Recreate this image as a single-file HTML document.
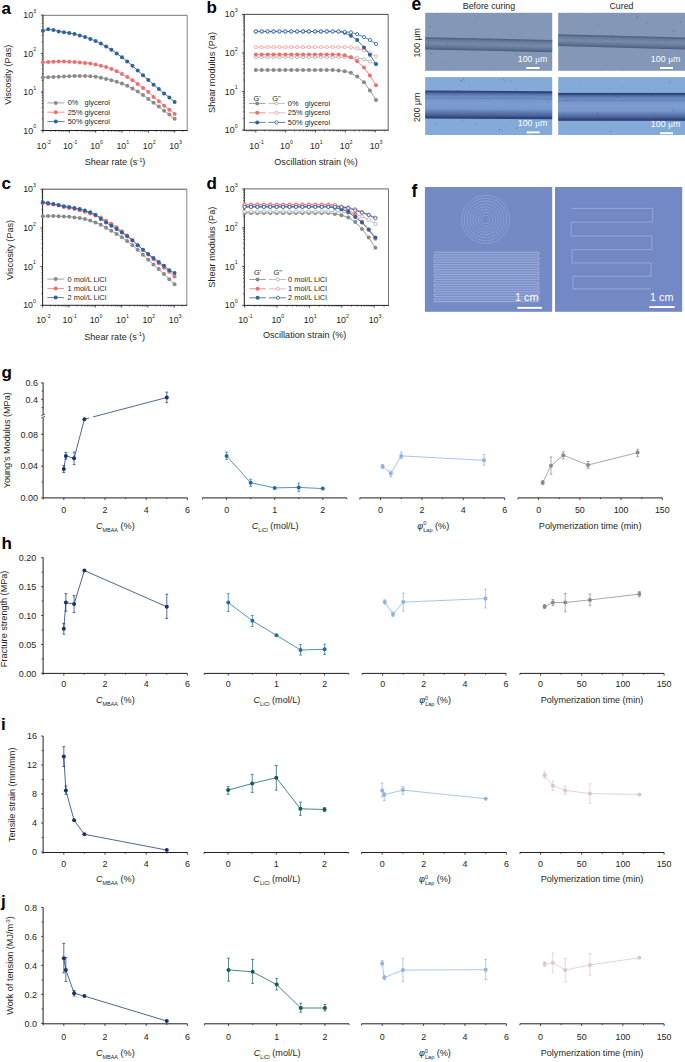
<!DOCTYPE html>
<html><head><meta charset="utf-8"><style>
html,body{margin:0;padding:0;background:#fff;}
body{width:685px;height:1062px;overflow:hidden;}
svg{display:block;font-family:"Liberation Sans", sans-serif;}
</style></head><body>
<svg width="685" height="1062" viewBox="0 0 685 1062">
<defs><linearGradient id="ch1" x1="0" y1="0" x2="0" y2="1"><stop offset="0" stop-color="#4f607e"/><stop offset="0.1" stop-color="#56688a"/><stop offset="0.18" stop-color="#65799a"/><stop offset="0.35" stop-color="#6f84a3"/><stop offset="0.5" stop-color="#7689a8"/><stop offset="0.62" stop-color="#6d81a0"/><stop offset="0.78" stop-color="#627594"/><stop offset="0.9" stop-color="#56678a"/><stop offset="1" stop-color="#4c5c7a"/></linearGradient><linearGradient id="ch2" x1="0" y1="0" x2="0" y2="1"><stop offset="0" stop-color="#2a3b72"/><stop offset="0.05" stop-color="#33477e"/><stop offset="0.1" stop-color="#4f6aa3"/><stop offset="0.16" stop-color="#627fb7"/><stop offset="0.22" stop-color="#6f8fc5"/><stop offset="0.27" stop-color="#6282bb"/><stop offset="0.31" stop-color="#7595ca"/><stop offset="0.45" stop-color="#7d9dd0"/><stop offset="0.64" stop-color="#7898cc"/><stop offset="0.71" stop-color="#6a87c0"/><stop offset="0.79" stop-color="#5a74ab"/><stop offset="0.87" stop-color="#4c629b"/><stop offset="0.94" stop-color="#34477f"/><stop offset="1" stop-color="#2a3b72"/></linearGradient></defs>
<rect width="685" height="1062" fill="#fff"/>
<line x1="43" y1="15.3" x2="187.2" y2="15.3" stroke="#666" stroke-width="0.9" />
<line x1="187.2" y1="15.3" x2="187.2" y2="130.5" stroke="#777" stroke-width="0.9" />
<line x1="43" y1="130.5" x2="43" y2="132.7" stroke="#231f20" stroke-width="0.8" />
<line x1="50.93" y1="130.5" x2="50.93" y2="131.8" stroke="#231f20" stroke-width="0.6" />
<line x1="55.57" y1="130.5" x2="55.57" y2="131.8" stroke="#231f20" stroke-width="0.6" />
<line x1="58.86" y1="130.5" x2="58.86" y2="131.8" stroke="#231f20" stroke-width="0.6" />
<line x1="61.42" y1="130.5" x2="61.42" y2="131.8" stroke="#231f20" stroke-width="0.6" />
<line x1="63.5" y1="130.5" x2="63.5" y2="131.8" stroke="#231f20" stroke-width="0.6" />
<line x1="65.27" y1="130.5" x2="65.27" y2="131.8" stroke="#231f20" stroke-width="0.6" />
<line x1="66.8" y1="130.5" x2="66.8" y2="131.8" stroke="#231f20" stroke-width="0.6" />
<line x1="68.14" y1="130.5" x2="68.14" y2="131.8" stroke="#231f20" stroke-width="0.6" />
<line x1="69.35" y1="130.5" x2="69.35" y2="132.7" stroke="#231f20" stroke-width="0.8" />
<line x1="77.28" y1="130.5" x2="77.28" y2="131.8" stroke="#231f20" stroke-width="0.6" />
<line x1="81.92" y1="130.5" x2="81.92" y2="131.8" stroke="#231f20" stroke-width="0.6" />
<line x1="85.21" y1="130.5" x2="85.21" y2="131.8" stroke="#231f20" stroke-width="0.6" />
<line x1="87.77" y1="130.5" x2="87.77" y2="131.8" stroke="#231f20" stroke-width="0.6" />
<line x1="89.85" y1="130.5" x2="89.85" y2="131.8" stroke="#231f20" stroke-width="0.6" />
<line x1="91.62" y1="130.5" x2="91.62" y2="131.8" stroke="#231f20" stroke-width="0.6" />
<line x1="93.15" y1="130.5" x2="93.15" y2="131.8" stroke="#231f20" stroke-width="0.6" />
<line x1="94.49" y1="130.5" x2="94.49" y2="131.8" stroke="#231f20" stroke-width="0.6" />
<line x1="95.7" y1="130.5" x2="95.7" y2="132.7" stroke="#231f20" stroke-width="0.8" />
<line x1="103.63" y1="130.5" x2="103.63" y2="131.8" stroke="#231f20" stroke-width="0.6" />
<line x1="108.27" y1="130.5" x2="108.27" y2="131.8" stroke="#231f20" stroke-width="0.6" />
<line x1="111.56" y1="130.5" x2="111.56" y2="131.8" stroke="#231f20" stroke-width="0.6" />
<line x1="114.12" y1="130.5" x2="114.12" y2="131.8" stroke="#231f20" stroke-width="0.6" />
<line x1="116.2" y1="130.5" x2="116.2" y2="131.8" stroke="#231f20" stroke-width="0.6" />
<line x1="117.97" y1="130.5" x2="117.97" y2="131.8" stroke="#231f20" stroke-width="0.6" />
<line x1="119.5" y1="130.5" x2="119.5" y2="131.8" stroke="#231f20" stroke-width="0.6" />
<line x1="120.84" y1="130.5" x2="120.84" y2="131.8" stroke="#231f20" stroke-width="0.6" />
<line x1="122.05" y1="130.5" x2="122.05" y2="132.7" stroke="#231f20" stroke-width="0.8" />
<line x1="129.98" y1="130.5" x2="129.98" y2="131.8" stroke="#231f20" stroke-width="0.6" />
<line x1="134.62" y1="130.5" x2="134.62" y2="131.8" stroke="#231f20" stroke-width="0.6" />
<line x1="137.91" y1="130.5" x2="137.91" y2="131.8" stroke="#231f20" stroke-width="0.6" />
<line x1="140.47" y1="130.5" x2="140.47" y2="131.8" stroke="#231f20" stroke-width="0.6" />
<line x1="142.55" y1="130.5" x2="142.55" y2="131.8" stroke="#231f20" stroke-width="0.6" />
<line x1="144.32" y1="130.5" x2="144.32" y2="131.8" stroke="#231f20" stroke-width="0.6" />
<line x1="145.85" y1="130.5" x2="145.85" y2="131.8" stroke="#231f20" stroke-width="0.6" />
<line x1="147.19" y1="130.5" x2="147.19" y2="131.8" stroke="#231f20" stroke-width="0.6" />
<line x1="148.4" y1="130.5" x2="148.4" y2="132.7" stroke="#231f20" stroke-width="0.8" />
<line x1="156.33" y1="130.5" x2="156.33" y2="131.8" stroke="#231f20" stroke-width="0.6" />
<line x1="160.97" y1="130.5" x2="160.97" y2="131.8" stroke="#231f20" stroke-width="0.6" />
<line x1="164.26" y1="130.5" x2="164.26" y2="131.8" stroke="#231f20" stroke-width="0.6" />
<line x1="166.82" y1="130.5" x2="166.82" y2="131.8" stroke="#231f20" stroke-width="0.6" />
<line x1="168.9" y1="130.5" x2="168.9" y2="131.8" stroke="#231f20" stroke-width="0.6" />
<line x1="170.67" y1="130.5" x2="170.67" y2="131.8" stroke="#231f20" stroke-width="0.6" />
<line x1="172.2" y1="130.5" x2="172.2" y2="131.8" stroke="#231f20" stroke-width="0.6" />
<line x1="173.54" y1="130.5" x2="173.54" y2="131.8" stroke="#231f20" stroke-width="0.6" />
<line x1="174.75" y1="130.5" x2="174.75" y2="132.7" stroke="#231f20" stroke-width="0.8" />
<line x1="182.68" y1="130.5" x2="182.68" y2="131.8" stroke="#231f20" stroke-width="0.6" />
<line x1="40.8" y1="130.5" x2="43" y2="130.5" stroke="#231f20" stroke-width="0.8" />
<line x1="41.7" y1="118.92" x2="43" y2="118.92" stroke="#231f20" stroke-width="0.6" />
<line x1="41.7" y1="112.15" x2="43" y2="112.15" stroke="#231f20" stroke-width="0.6" />
<line x1="41.7" y1="107.34" x2="43" y2="107.34" stroke="#231f20" stroke-width="0.6" />
<line x1="41.7" y1="103.61" x2="43" y2="103.61" stroke="#231f20" stroke-width="0.6" />
<line x1="41.7" y1="100.56" x2="43" y2="100.56" stroke="#231f20" stroke-width="0.6" />
<line x1="41.7" y1="97.99" x2="43" y2="97.99" stroke="#231f20" stroke-width="0.6" />
<line x1="41.7" y1="95.76" x2="43" y2="95.76" stroke="#231f20" stroke-width="0.6" />
<line x1="41.7" y1="93.79" x2="43" y2="93.79" stroke="#231f20" stroke-width="0.6" />
<line x1="40.8" y1="92.03" x2="43" y2="92.03" stroke="#231f20" stroke-width="0.8" />
<line x1="41.7" y1="80.45" x2="43" y2="80.45" stroke="#231f20" stroke-width="0.6" />
<line x1="41.7" y1="73.68" x2="43" y2="73.68" stroke="#231f20" stroke-width="0.6" />
<line x1="41.7" y1="68.87" x2="43" y2="68.87" stroke="#231f20" stroke-width="0.6" />
<line x1="41.7" y1="65.14" x2="43" y2="65.14" stroke="#231f20" stroke-width="0.6" />
<line x1="41.7" y1="62.09" x2="43" y2="62.09" stroke="#231f20" stroke-width="0.6" />
<line x1="41.7" y1="59.52" x2="43" y2="59.52" stroke="#231f20" stroke-width="0.6" />
<line x1="41.7" y1="57.29" x2="43" y2="57.29" stroke="#231f20" stroke-width="0.6" />
<line x1="41.7" y1="55.32" x2="43" y2="55.32" stroke="#231f20" stroke-width="0.6" />
<line x1="40.8" y1="53.56" x2="43" y2="53.56" stroke="#231f20" stroke-width="0.8" />
<line x1="41.7" y1="41.98" x2="43" y2="41.98" stroke="#231f20" stroke-width="0.6" />
<line x1="41.7" y1="35.21" x2="43" y2="35.21" stroke="#231f20" stroke-width="0.6" />
<line x1="41.7" y1="30.4" x2="43" y2="30.4" stroke="#231f20" stroke-width="0.6" />
<line x1="41.7" y1="26.67" x2="43" y2="26.67" stroke="#231f20" stroke-width="0.6" />
<line x1="41.7" y1="23.62" x2="43" y2="23.62" stroke="#231f20" stroke-width="0.6" />
<line x1="41.7" y1="21.05" x2="43" y2="21.05" stroke="#231f20" stroke-width="0.6" />
<line x1="41.7" y1="18.82" x2="43" y2="18.82" stroke="#231f20" stroke-width="0.6" />
<line x1="41.7" y1="16.85" x2="43" y2="16.85" stroke="#231f20" stroke-width="0.6" />
<line x1="40.8" y1="15.09" x2="43" y2="15.09" stroke="#231f20" stroke-width="0.8" />
<line x1="43" y1="14.9" x2="43" y2="130.95" stroke="#231f20" stroke-width="1.0" />
<line x1="42.55" y1="130.5" x2="187.6" y2="130.5" stroke="#231f20" stroke-width="1.0" />
<polyline points="42.9,77.5 48.17,77.3 53.44,76.9 58.71,76.7 63.98,76.6 69.25,76.3 74.52,76 79.79,76 85.06,76.1 90.33,76.3 95.6,76.7 100.87,77.7 106.14,78.9 111.41,80.2 116.68,81.8 121.95,83.6 127.22,85.8 132.49,88.5 137.76,91.6 143.03,95.1 148.3,99 153.57,102.7 158.84,106.6 164.11,110.7 169.38,114.5 174.65,118.8" fill="none" stroke="#8a8a8a" stroke-width="0.85"/>
<circle cx="42.9" cy="77.5" r="2.0" fill="#8a8a8a"/>
<circle cx="48.17" cy="77.3" r="2.0" fill="#8a8a8a"/>
<circle cx="53.44" cy="76.9" r="2.0" fill="#8a8a8a"/>
<circle cx="58.71" cy="76.7" r="2.0" fill="#8a8a8a"/>
<circle cx="63.98" cy="76.6" r="2.0" fill="#8a8a8a"/>
<circle cx="69.25" cy="76.3" r="2.0" fill="#8a8a8a"/>
<circle cx="74.52" cy="76" r="2.0" fill="#8a8a8a"/>
<circle cx="79.79" cy="76" r="2.0" fill="#8a8a8a"/>
<circle cx="85.06" cy="76.1" r="2.0" fill="#8a8a8a"/>
<circle cx="90.33" cy="76.3" r="2.0" fill="#8a8a8a"/>
<circle cx="95.6" cy="76.7" r="2.0" fill="#8a8a8a"/>
<circle cx="100.87" cy="77.7" r="2.0" fill="#8a8a8a"/>
<circle cx="106.14" cy="78.9" r="2.0" fill="#8a8a8a"/>
<circle cx="111.41" cy="80.2" r="2.0" fill="#8a8a8a"/>
<circle cx="116.68" cy="81.8" r="2.0" fill="#8a8a8a"/>
<circle cx="121.95" cy="83.6" r="2.0" fill="#8a8a8a"/>
<circle cx="127.22" cy="85.8" r="2.0" fill="#8a8a8a"/>
<circle cx="132.49" cy="88.5" r="2.0" fill="#8a8a8a"/>
<circle cx="137.76" cy="91.6" r="2.0" fill="#8a8a8a"/>
<circle cx="143.03" cy="95.1" r="2.0" fill="#8a8a8a"/>
<circle cx="148.3" cy="99" r="2.0" fill="#8a8a8a"/>
<circle cx="153.57" cy="102.7" r="2.0" fill="#8a8a8a"/>
<circle cx="158.84" cy="106.6" r="2.0" fill="#8a8a8a"/>
<circle cx="164.11" cy="110.7" r="2.0" fill="#8a8a8a"/>
<circle cx="169.38" cy="114.5" r="2.0" fill="#8a8a8a"/>
<circle cx="174.65" cy="118.8" r="2.0" fill="#8a8a8a"/>
<polyline points="42.9,62.3 48.17,62 53.44,61.7 58.71,61.5 63.98,61.5 69.25,61.7 74.52,62.1 79.79,62.5 85.06,62.9 90.33,63.5 95.6,64.6 100.87,65.8 106.14,67 111.41,69 116.68,71.3 121.95,74.1 127.22,77.1 132.49,80.3 137.76,84 143.03,87.9 148.3,92 153.57,96.9 158.84,101.3 164.11,105.8 169.38,109.8 174.65,113.9" fill="none" stroke="#ef6f6f" stroke-width="0.85"/>
<circle cx="42.9" cy="62.3" r="2.0" fill="#ef6f6f"/>
<circle cx="48.17" cy="62" r="2.0" fill="#ef6f6f"/>
<circle cx="53.44" cy="61.7" r="2.0" fill="#ef6f6f"/>
<circle cx="58.71" cy="61.5" r="2.0" fill="#ef6f6f"/>
<circle cx="63.98" cy="61.5" r="2.0" fill="#ef6f6f"/>
<circle cx="69.25" cy="61.7" r="2.0" fill="#ef6f6f"/>
<circle cx="74.52" cy="62.1" r="2.0" fill="#ef6f6f"/>
<circle cx="79.79" cy="62.5" r="2.0" fill="#ef6f6f"/>
<circle cx="85.06" cy="62.9" r="2.0" fill="#ef6f6f"/>
<circle cx="90.33" cy="63.5" r="2.0" fill="#ef6f6f"/>
<circle cx="95.6" cy="64.6" r="2.0" fill="#ef6f6f"/>
<circle cx="100.87" cy="65.8" r="2.0" fill="#ef6f6f"/>
<circle cx="106.14" cy="67" r="2.0" fill="#ef6f6f"/>
<circle cx="111.41" cy="69" r="2.0" fill="#ef6f6f"/>
<circle cx="116.68" cy="71.3" r="2.0" fill="#ef6f6f"/>
<circle cx="121.95" cy="74.1" r="2.0" fill="#ef6f6f"/>
<circle cx="127.22" cy="77.1" r="2.0" fill="#ef6f6f"/>
<circle cx="132.49" cy="80.3" r="2.0" fill="#ef6f6f"/>
<circle cx="137.76" cy="84" r="2.0" fill="#ef6f6f"/>
<circle cx="143.03" cy="87.9" r="2.0" fill="#ef6f6f"/>
<circle cx="148.3" cy="92" r="2.0" fill="#ef6f6f"/>
<circle cx="153.57" cy="96.9" r="2.0" fill="#ef6f6f"/>
<circle cx="158.84" cy="101.3" r="2.0" fill="#ef6f6f"/>
<circle cx="164.11" cy="105.8" r="2.0" fill="#ef6f6f"/>
<circle cx="169.38" cy="109.8" r="2.0" fill="#ef6f6f"/>
<circle cx="174.65" cy="113.9" r="2.0" fill="#ef6f6f"/>
<polyline points="42.9,30.8 48.17,29.3 53.44,30 58.71,31.4 63.98,32.2 69.25,33.1 74.52,33.9 79.79,35.4 85.06,37 90.33,38.9 95.6,40.9 100.87,43.6 106.14,46.5 111.41,49.8 116.68,53.4 121.95,57.3 127.22,61.4 132.49,65.7 137.76,70.6 143.03,75.3 148.3,80.1 153.57,84.7 158.84,89.1 164.11,93.4 169.38,97.5 174.65,101.9" fill="none" stroke="#2e62a0" stroke-width="0.85"/>
<circle cx="42.9" cy="30.8" r="2.0" fill="#2e62a0"/>
<circle cx="48.17" cy="29.3" r="2.0" fill="#2e62a0"/>
<circle cx="53.44" cy="30" r="2.0" fill="#2e62a0"/>
<circle cx="58.71" cy="31.4" r="2.0" fill="#2e62a0"/>
<circle cx="63.98" cy="32.2" r="2.0" fill="#2e62a0"/>
<circle cx="69.25" cy="33.1" r="2.0" fill="#2e62a0"/>
<circle cx="74.52" cy="33.9" r="2.0" fill="#2e62a0"/>
<circle cx="79.79" cy="35.4" r="2.0" fill="#2e62a0"/>
<circle cx="85.06" cy="37" r="2.0" fill="#2e62a0"/>
<circle cx="90.33" cy="38.9" r="2.0" fill="#2e62a0"/>
<circle cx="95.6" cy="40.9" r="2.0" fill="#2e62a0"/>
<circle cx="100.87" cy="43.6" r="2.0" fill="#2e62a0"/>
<circle cx="106.14" cy="46.5" r="2.0" fill="#2e62a0"/>
<circle cx="111.41" cy="49.8" r="2.0" fill="#2e62a0"/>
<circle cx="116.68" cy="53.4" r="2.0" fill="#2e62a0"/>
<circle cx="121.95" cy="57.3" r="2.0" fill="#2e62a0"/>
<circle cx="127.22" cy="61.4" r="2.0" fill="#2e62a0"/>
<circle cx="132.49" cy="65.7" r="2.0" fill="#2e62a0"/>
<circle cx="137.76" cy="70.6" r="2.0" fill="#2e62a0"/>
<circle cx="143.03" cy="75.3" r="2.0" fill="#2e62a0"/>
<circle cx="148.3" cy="80.1" r="2.0" fill="#2e62a0"/>
<circle cx="153.57" cy="84.7" r="2.0" fill="#2e62a0"/>
<circle cx="158.84" cy="89.1" r="2.0" fill="#2e62a0"/>
<circle cx="164.11" cy="93.4" r="2.0" fill="#2e62a0"/>
<circle cx="169.38" cy="97.5" r="2.0" fill="#2e62a0"/>
<circle cx="174.65" cy="101.9" r="2.0" fill="#2e62a0"/>
<line x1="47.3" y1="102.9" x2="64.5" y2="102.9" stroke="#8a8a8a" stroke-width="0.8" />
<circle cx="55.8" cy="102.9" r="2.0" fill="#8a8a8a"/>
<text x="67.7" y="105.4" font-size="7.4" text-anchor="start" font-weight="normal" fill="#231f20" >0%&#160;&#160; glycerol</text>
<line x1="47.3" y1="112.2" x2="64.5" y2="112.2" stroke="#ef6f6f" stroke-width="0.8" />
<circle cx="55.8" cy="112.2" r="2.0" fill="#ef6f6f"/>
<text x="67.7" y="114.7" font-size="7.4" text-anchor="start" font-weight="normal" fill="#231f20" >25% glycerol</text>
<line x1="47.3" y1="121.6" x2="64.5" y2="121.6" stroke="#2e62a0" stroke-width="0.8" />
<circle cx="55.8" cy="121.6" r="2.0" fill="#2e62a0"/>
<text x="67.7" y="124.1" font-size="7.4" text-anchor="start" font-weight="normal" fill="#231f20" >50% glycerol</text>
<text x="43.8" y="149" font-size="8.8" text-anchor="middle" fill="#231f20">10<tspan font-size="5.28" dy="-5.19">-2</tspan></text>
<text x="70.15" y="149" font-size="8.8" text-anchor="middle" fill="#231f20">10<tspan font-size="5.28" dy="-5.19">-1</tspan></text>
<text x="96.5" y="149" font-size="8.8" text-anchor="middle" fill="#231f20">10<tspan font-size="5.28" dy="-5.19">0</tspan></text>
<text x="122.85" y="149" font-size="8.8" text-anchor="middle" fill="#231f20">10<tspan font-size="5.28" dy="-5.19">1</tspan></text>
<text x="149.2" y="149" font-size="8.8" text-anchor="middle" fill="#231f20">10<tspan font-size="5.28" dy="-5.19">2</tspan></text>
<text x="175.55" y="149" font-size="8.8" text-anchor="middle" fill="#231f20">10<tspan font-size="5.28" dy="-5.19">3</tspan></text>
<text x="36.1" y="133.5" font-size="8.8" text-anchor="end" fill="#231f20">10<tspan font-size="5.28" dy="-5.19">0</tspan></text>
<text x="36.1" y="95.03" font-size="8.8" text-anchor="end" fill="#231f20">10<tspan font-size="5.28" dy="-5.19">1</tspan></text>
<text x="36.1" y="56.56" font-size="8.8" text-anchor="end" fill="#231f20">10<tspan font-size="5.28" dy="-5.19">2</tspan></text>
<text x="36.1" y="18.09" font-size="8.8" text-anchor="end" fill="#231f20">10<tspan font-size="5.28" dy="-5.19">3</tspan></text>
<text x="115" y="165" font-size="9.1" text-anchor="middle" font-weight="normal" fill="#231f20" >Shear rate (s<tspan font-size="5.7" dy="-3.5">-1</tspan><tspan dy="3.5">)</tspan></text>
<text transform="translate(10.5,74.7) rotate(-90)" font-size="9.1" text-anchor="middle" fill="#231f20">Viscosity (Pas)</text>
<text x="1.5" y="14" font-size="17" text-anchor="start" font-weight="bold" fill="#000" >a</text>
<line x1="244.2" y1="14.4" x2="388.2" y2="14.4" stroke="#333" stroke-width="0.9" />
<line x1="388.2" y1="14.4" x2="388.2" y2="130.2" stroke="#555" stroke-width="0.9" />
<line x1="255.8" y1="130.2" x2="255.8" y2="132.4" stroke="#231f20" stroke-width="0.8" />
<line x1="264.79" y1="130.2" x2="264.79" y2="131.5" stroke="#231f20" stroke-width="0.6" />
<line x1="270.04" y1="130.2" x2="270.04" y2="131.5" stroke="#231f20" stroke-width="0.6" />
<line x1="273.77" y1="130.2" x2="273.77" y2="131.5" stroke="#231f20" stroke-width="0.6" />
<line x1="276.66" y1="130.2" x2="276.66" y2="131.5" stroke="#231f20" stroke-width="0.6" />
<line x1="279.03" y1="130.2" x2="279.03" y2="131.5" stroke="#231f20" stroke-width="0.6" />
<line x1="281.03" y1="130.2" x2="281.03" y2="131.5" stroke="#231f20" stroke-width="0.6" />
<line x1="282.76" y1="130.2" x2="282.76" y2="131.5" stroke="#231f20" stroke-width="0.6" />
<line x1="284.28" y1="130.2" x2="284.28" y2="131.5" stroke="#231f20" stroke-width="0.6" />
<line x1="285.65" y1="130.2" x2="285.65" y2="132.4" stroke="#231f20" stroke-width="0.8" />
<line x1="294.64" y1="130.2" x2="294.64" y2="131.5" stroke="#231f20" stroke-width="0.6" />
<line x1="299.89" y1="130.2" x2="299.89" y2="131.5" stroke="#231f20" stroke-width="0.6" />
<line x1="303.62" y1="130.2" x2="303.62" y2="131.5" stroke="#231f20" stroke-width="0.6" />
<line x1="306.51" y1="130.2" x2="306.51" y2="131.5" stroke="#231f20" stroke-width="0.6" />
<line x1="308.88" y1="130.2" x2="308.88" y2="131.5" stroke="#231f20" stroke-width="0.6" />
<line x1="310.88" y1="130.2" x2="310.88" y2="131.5" stroke="#231f20" stroke-width="0.6" />
<line x1="312.61" y1="130.2" x2="312.61" y2="131.5" stroke="#231f20" stroke-width="0.6" />
<line x1="314.13" y1="130.2" x2="314.13" y2="131.5" stroke="#231f20" stroke-width="0.6" />
<line x1="315.5" y1="130.2" x2="315.5" y2="132.4" stroke="#231f20" stroke-width="0.8" />
<line x1="324.49" y1="130.2" x2="324.49" y2="131.5" stroke="#231f20" stroke-width="0.6" />
<line x1="329.74" y1="130.2" x2="329.74" y2="131.5" stroke="#231f20" stroke-width="0.6" />
<line x1="333.47" y1="130.2" x2="333.47" y2="131.5" stroke="#231f20" stroke-width="0.6" />
<line x1="336.36" y1="130.2" x2="336.36" y2="131.5" stroke="#231f20" stroke-width="0.6" />
<line x1="338.73" y1="130.2" x2="338.73" y2="131.5" stroke="#231f20" stroke-width="0.6" />
<line x1="340.73" y1="130.2" x2="340.73" y2="131.5" stroke="#231f20" stroke-width="0.6" />
<line x1="342.46" y1="130.2" x2="342.46" y2="131.5" stroke="#231f20" stroke-width="0.6" />
<line x1="343.98" y1="130.2" x2="343.98" y2="131.5" stroke="#231f20" stroke-width="0.6" />
<line x1="345.35" y1="130.2" x2="345.35" y2="132.4" stroke="#231f20" stroke-width="0.8" />
<line x1="354.34" y1="130.2" x2="354.34" y2="131.5" stroke="#231f20" stroke-width="0.6" />
<line x1="359.59" y1="130.2" x2="359.59" y2="131.5" stroke="#231f20" stroke-width="0.6" />
<line x1="363.32" y1="130.2" x2="363.32" y2="131.5" stroke="#231f20" stroke-width="0.6" />
<line x1="366.21" y1="130.2" x2="366.21" y2="131.5" stroke="#231f20" stroke-width="0.6" />
<line x1="368.58" y1="130.2" x2="368.58" y2="131.5" stroke="#231f20" stroke-width="0.6" />
<line x1="370.58" y1="130.2" x2="370.58" y2="131.5" stroke="#231f20" stroke-width="0.6" />
<line x1="372.31" y1="130.2" x2="372.31" y2="131.5" stroke="#231f20" stroke-width="0.6" />
<line x1="373.83" y1="130.2" x2="373.83" y2="131.5" stroke="#231f20" stroke-width="0.6" />
<line x1="375.2" y1="130.2" x2="375.2" y2="132.4" stroke="#231f20" stroke-width="0.8" />
<line x1="384.19" y1="130.2" x2="384.19" y2="131.5" stroke="#231f20" stroke-width="0.6" />
<line x1="246.81" y1="130.2" x2="246.81" y2="131.5" stroke="#231f20" stroke-width="0.6" />
<line x1="249.18" y1="130.2" x2="249.18" y2="131.5" stroke="#231f20" stroke-width="0.6" />
<line x1="251.18" y1="130.2" x2="251.18" y2="131.5" stroke="#231f20" stroke-width="0.6" />
<line x1="252.91" y1="130.2" x2="252.91" y2="131.5" stroke="#231f20" stroke-width="0.6" />
<line x1="254.43" y1="130.2" x2="254.43" y2="131.5" stroke="#231f20" stroke-width="0.6" />
<line x1="242" y1="130.2" x2="244.2" y2="130.2" stroke="#231f20" stroke-width="0.8" />
<line x1="242.9" y1="118.58" x2="244.2" y2="118.58" stroke="#231f20" stroke-width="0.6" />
<line x1="242.9" y1="111.78" x2="244.2" y2="111.78" stroke="#231f20" stroke-width="0.6" />
<line x1="242.9" y1="106.96" x2="244.2" y2="106.96" stroke="#231f20" stroke-width="0.6" />
<line x1="242.9" y1="103.22" x2="244.2" y2="103.22" stroke="#231f20" stroke-width="0.6" />
<line x1="242.9" y1="100.16" x2="244.2" y2="100.16" stroke="#231f20" stroke-width="0.6" />
<line x1="242.9" y1="97.58" x2="244.2" y2="97.58" stroke="#231f20" stroke-width="0.6" />
<line x1="242.9" y1="95.34" x2="244.2" y2="95.34" stroke="#231f20" stroke-width="0.6" />
<line x1="242.9" y1="93.37" x2="244.2" y2="93.37" stroke="#231f20" stroke-width="0.6" />
<line x1="242" y1="91.6" x2="244.2" y2="91.6" stroke="#231f20" stroke-width="0.8" />
<line x1="242.9" y1="79.98" x2="244.2" y2="79.98" stroke="#231f20" stroke-width="0.6" />
<line x1="242.9" y1="73.18" x2="244.2" y2="73.18" stroke="#231f20" stroke-width="0.6" />
<line x1="242.9" y1="68.36" x2="244.2" y2="68.36" stroke="#231f20" stroke-width="0.6" />
<line x1="242.9" y1="64.62" x2="244.2" y2="64.62" stroke="#231f20" stroke-width="0.6" />
<line x1="242.9" y1="61.56" x2="244.2" y2="61.56" stroke="#231f20" stroke-width="0.6" />
<line x1="242.9" y1="58.98" x2="244.2" y2="58.98" stroke="#231f20" stroke-width="0.6" />
<line x1="242.9" y1="56.74" x2="244.2" y2="56.74" stroke="#231f20" stroke-width="0.6" />
<line x1="242.9" y1="54.77" x2="244.2" y2="54.77" stroke="#231f20" stroke-width="0.6" />
<line x1="242" y1="53" x2="244.2" y2="53" stroke="#231f20" stroke-width="0.8" />
<line x1="242.9" y1="41.38" x2="244.2" y2="41.38" stroke="#231f20" stroke-width="0.6" />
<line x1="242.9" y1="34.58" x2="244.2" y2="34.58" stroke="#231f20" stroke-width="0.6" />
<line x1="242.9" y1="29.76" x2="244.2" y2="29.76" stroke="#231f20" stroke-width="0.6" />
<line x1="242.9" y1="26.02" x2="244.2" y2="26.02" stroke="#231f20" stroke-width="0.6" />
<line x1="242.9" y1="22.96" x2="244.2" y2="22.96" stroke="#231f20" stroke-width="0.6" />
<line x1="242.9" y1="20.38" x2="244.2" y2="20.38" stroke="#231f20" stroke-width="0.6" />
<line x1="242.9" y1="18.14" x2="244.2" y2="18.14" stroke="#231f20" stroke-width="0.6" />
<line x1="242.9" y1="16.17" x2="244.2" y2="16.17" stroke="#231f20" stroke-width="0.6" />
<line x1="242" y1="14.4" x2="244.2" y2="14.4" stroke="#231f20" stroke-width="0.8" />
<line x1="244.2" y1="14" x2="244.2" y2="130.65" stroke="#231f20" stroke-width="1.0" />
<line x1="243.75" y1="130.2" x2="388.6" y2="130.2" stroke="#231f20" stroke-width="1.0" />
<polyline points="255.8,70 261.71,70 267.62,70 273.53,70 279.44,70 285.35,70 291.26,70 297.17,70 303.08,70 308.99,70 314.9,70 320.81,70 326.72,70 332.63,70 338.5,70.5 344.7,71.3 350.9,72.8 357.2,76.6 364,82.2 369.9,90.4 376,100.1" fill="none" stroke="#8a8a8a" stroke-width="0.85"/>
<circle cx="255.8" cy="70" r="2.0" fill="#8a8a8a"/>
<circle cx="261.71" cy="70" r="2.0" fill="#8a8a8a"/>
<circle cx="267.62" cy="70" r="2.0" fill="#8a8a8a"/>
<circle cx="273.53" cy="70" r="2.0" fill="#8a8a8a"/>
<circle cx="279.44" cy="70" r="2.0" fill="#8a8a8a"/>
<circle cx="285.35" cy="70" r="2.0" fill="#8a8a8a"/>
<circle cx="291.26" cy="70" r="2.0" fill="#8a8a8a"/>
<circle cx="297.17" cy="70" r="2.0" fill="#8a8a8a"/>
<circle cx="303.08" cy="70" r="2.0" fill="#8a8a8a"/>
<circle cx="308.99" cy="70" r="2.0" fill="#8a8a8a"/>
<circle cx="314.9" cy="70" r="2.0" fill="#8a8a8a"/>
<circle cx="320.81" cy="70" r="2.0" fill="#8a8a8a"/>
<circle cx="326.72" cy="70" r="2.0" fill="#8a8a8a"/>
<circle cx="332.63" cy="70" r="2.0" fill="#8a8a8a"/>
<circle cx="338.5" cy="70.5" r="2.0" fill="#8a8a8a"/>
<circle cx="344.7" cy="71.3" r="2.0" fill="#8a8a8a"/>
<circle cx="350.9" cy="72.8" r="2.0" fill="#8a8a8a"/>
<circle cx="357.2" cy="76.6" r="2.0" fill="#8a8a8a"/>
<circle cx="364" cy="82.2" r="2.0" fill="#8a8a8a"/>
<circle cx="369.9" cy="90.4" r="2.0" fill="#8a8a8a"/>
<circle cx="376" cy="100.1" r="2.0" fill="#8a8a8a"/>
<polyline points="255.8,57.1 261.71,57.1 267.62,57.1 273.53,57.1 279.44,57.1 285.35,57.1 291.26,57.1 297.17,57.1 303.08,57.1 308.99,57.1 314.9,57.1 320.81,57.1 326.72,57.1 332.63,57.1 338.5,57.1 344.7,57.1 350.9,57.3 357.2,57.9 364,59.4 369.9,61.6 376,64.3" fill="none" stroke="#b0b0b0" stroke-width="0.85"/>
<circle cx="255.8" cy="57.1" r="1.6" fill="#fff" stroke="#b0b0b0" stroke-width="0.85"/>
<circle cx="261.71" cy="57.1" r="1.6" fill="#fff" stroke="#b0b0b0" stroke-width="0.85"/>
<circle cx="267.62" cy="57.1" r="1.6" fill="#fff" stroke="#b0b0b0" stroke-width="0.85"/>
<circle cx="273.53" cy="57.1" r="1.6" fill="#fff" stroke="#b0b0b0" stroke-width="0.85"/>
<circle cx="279.44" cy="57.1" r="1.6" fill="#fff" stroke="#b0b0b0" stroke-width="0.85"/>
<circle cx="285.35" cy="57.1" r="1.6" fill="#fff" stroke="#b0b0b0" stroke-width="0.85"/>
<circle cx="291.26" cy="57.1" r="1.6" fill="#fff" stroke="#b0b0b0" stroke-width="0.85"/>
<circle cx="297.17" cy="57.1" r="1.6" fill="#fff" stroke="#b0b0b0" stroke-width="0.85"/>
<circle cx="303.08" cy="57.1" r="1.6" fill="#fff" stroke="#b0b0b0" stroke-width="0.85"/>
<circle cx="308.99" cy="57.1" r="1.6" fill="#fff" stroke="#b0b0b0" stroke-width="0.85"/>
<circle cx="314.9" cy="57.1" r="1.6" fill="#fff" stroke="#b0b0b0" stroke-width="0.85"/>
<circle cx="320.81" cy="57.1" r="1.6" fill="#fff" stroke="#b0b0b0" stroke-width="0.85"/>
<circle cx="326.72" cy="57.1" r="1.6" fill="#fff" stroke="#b0b0b0" stroke-width="0.85"/>
<circle cx="332.63" cy="57.1" r="1.6" fill="#fff" stroke="#b0b0b0" stroke-width="0.85"/>
<circle cx="338.5" cy="57.1" r="1.6" fill="#fff" stroke="#b0b0b0" stroke-width="0.85"/>
<circle cx="344.7" cy="57.1" r="1.6" fill="#fff" stroke="#b0b0b0" stroke-width="0.85"/>
<circle cx="350.9" cy="57.3" r="1.6" fill="#fff" stroke="#b0b0b0" stroke-width="0.85"/>
<circle cx="357.2" cy="57.9" r="1.6" fill="#fff" stroke="#b0b0b0" stroke-width="0.85"/>
<circle cx="364" cy="59.4" r="1.6" fill="#fff" stroke="#b0b0b0" stroke-width="0.85"/>
<circle cx="369.9" cy="61.6" r="1.6" fill="#fff" stroke="#b0b0b0" stroke-width="0.85"/>
<circle cx="376" cy="64.3" r="1.6" fill="#fff" stroke="#b0b0b0" stroke-width="0.85"/>
<polyline points="255.8,54.4 261.71,54.4 267.62,54.4 273.53,54.4 279.44,54.4 285.35,54.4 291.26,54.4 297.17,54.4 303.08,54.4 308.99,54.4 314.9,54.4 320.81,54.4 326.72,54.4 332.63,54.4 338.5,54.4 344.7,55.3 350.9,57.3 357.2,61.2 364,67.5 369.9,75.6 376,85.3" fill="none" stroke="#ef6f6f" stroke-width="0.85"/>
<circle cx="255.8" cy="54.4" r="2.0" fill="#ef6f6f"/>
<circle cx="261.71" cy="54.4" r="2.0" fill="#ef6f6f"/>
<circle cx="267.62" cy="54.4" r="2.0" fill="#ef6f6f"/>
<circle cx="273.53" cy="54.4" r="2.0" fill="#ef6f6f"/>
<circle cx="279.44" cy="54.4" r="2.0" fill="#ef6f6f"/>
<circle cx="285.35" cy="54.4" r="2.0" fill="#ef6f6f"/>
<circle cx="291.26" cy="54.4" r="2.0" fill="#ef6f6f"/>
<circle cx="297.17" cy="54.4" r="2.0" fill="#ef6f6f"/>
<circle cx="303.08" cy="54.4" r="2.0" fill="#ef6f6f"/>
<circle cx="308.99" cy="54.4" r="2.0" fill="#ef6f6f"/>
<circle cx="314.9" cy="54.4" r="2.0" fill="#ef6f6f"/>
<circle cx="320.81" cy="54.4" r="2.0" fill="#ef6f6f"/>
<circle cx="326.72" cy="54.4" r="2.0" fill="#ef6f6f"/>
<circle cx="332.63" cy="54.4" r="2.0" fill="#ef6f6f"/>
<circle cx="338.5" cy="54.4" r="2.0" fill="#ef6f6f"/>
<circle cx="344.7" cy="55.3" r="2.0" fill="#ef6f6f"/>
<circle cx="350.9" cy="57.3" r="2.0" fill="#ef6f6f"/>
<circle cx="357.2" cy="61.2" r="2.0" fill="#ef6f6f"/>
<circle cx="364" cy="67.5" r="2.0" fill="#ef6f6f"/>
<circle cx="369.9" cy="75.6" r="2.0" fill="#ef6f6f"/>
<circle cx="376" cy="85.3" r="2.0" fill="#ef6f6f"/>
<polyline points="255.8,47.1 261.71,47.1 267.62,47.1 273.53,47.1 279.44,47.1 285.35,47.1 291.26,47.1 297.17,47.1 303.08,47.1 308.99,47.1 314.9,47.1 320.81,47.1 326.72,47.1 332.63,47.1 338.5,47.1 344.7,47.1 350.9,47.4 357.2,48.5 364,50.3 369.9,52.6 376,56.5" fill="none" stroke="#f4a0a0" stroke-width="0.85"/>
<circle cx="255.8" cy="47.1" r="1.6" fill="#fff" stroke="#f4a0a0" stroke-width="0.85"/>
<circle cx="261.71" cy="47.1" r="1.6" fill="#fff" stroke="#f4a0a0" stroke-width="0.85"/>
<circle cx="267.62" cy="47.1" r="1.6" fill="#fff" stroke="#f4a0a0" stroke-width="0.85"/>
<circle cx="273.53" cy="47.1" r="1.6" fill="#fff" stroke="#f4a0a0" stroke-width="0.85"/>
<circle cx="279.44" cy="47.1" r="1.6" fill="#fff" stroke="#f4a0a0" stroke-width="0.85"/>
<circle cx="285.35" cy="47.1" r="1.6" fill="#fff" stroke="#f4a0a0" stroke-width="0.85"/>
<circle cx="291.26" cy="47.1" r="1.6" fill="#fff" stroke="#f4a0a0" stroke-width="0.85"/>
<circle cx="297.17" cy="47.1" r="1.6" fill="#fff" stroke="#f4a0a0" stroke-width="0.85"/>
<circle cx="303.08" cy="47.1" r="1.6" fill="#fff" stroke="#f4a0a0" stroke-width="0.85"/>
<circle cx="308.99" cy="47.1" r="1.6" fill="#fff" stroke="#f4a0a0" stroke-width="0.85"/>
<circle cx="314.9" cy="47.1" r="1.6" fill="#fff" stroke="#f4a0a0" stroke-width="0.85"/>
<circle cx="320.81" cy="47.1" r="1.6" fill="#fff" stroke="#f4a0a0" stroke-width="0.85"/>
<circle cx="326.72" cy="47.1" r="1.6" fill="#fff" stroke="#f4a0a0" stroke-width="0.85"/>
<circle cx="332.63" cy="47.1" r="1.6" fill="#fff" stroke="#f4a0a0" stroke-width="0.85"/>
<circle cx="338.5" cy="47.1" r="1.6" fill="#fff" stroke="#f4a0a0" stroke-width="0.85"/>
<circle cx="344.7" cy="47.1" r="1.6" fill="#fff" stroke="#f4a0a0" stroke-width="0.85"/>
<circle cx="350.9" cy="47.4" r="1.6" fill="#fff" stroke="#f4a0a0" stroke-width="0.85"/>
<circle cx="357.2" cy="48.5" r="1.6" fill="#fff" stroke="#f4a0a0" stroke-width="0.85"/>
<circle cx="364" cy="50.3" r="1.6" fill="#fff" stroke="#f4a0a0" stroke-width="0.85"/>
<circle cx="369.9" cy="52.6" r="1.6" fill="#fff" stroke="#f4a0a0" stroke-width="0.85"/>
<circle cx="376" cy="56.5" r="1.6" fill="#fff" stroke="#f4a0a0" stroke-width="0.85"/>
<polyline points="255.8,31.6 261.71,31.6 267.62,31.6 273.53,31.6 279.44,31.6 285.35,31.6 291.26,31.6 297.17,31.6 303.08,31.6 308.99,31.6 314.9,31.6 320.81,31.6 326.72,31.6 332.63,31.6 338.5,31.6 344.7,32.8 350.9,35.7 357.2,40.1 364,47.4 369.9,54.7 376,64.1" fill="none" stroke="#2e62a0" stroke-width="0.85"/>
<circle cx="255.8" cy="31.6" r="2.0" fill="#2e62a0"/>
<circle cx="261.71" cy="31.6" r="2.0" fill="#2e62a0"/>
<circle cx="267.62" cy="31.6" r="2.0" fill="#2e62a0"/>
<circle cx="273.53" cy="31.6" r="2.0" fill="#2e62a0"/>
<circle cx="279.44" cy="31.6" r="2.0" fill="#2e62a0"/>
<circle cx="285.35" cy="31.6" r="2.0" fill="#2e62a0"/>
<circle cx="291.26" cy="31.6" r="2.0" fill="#2e62a0"/>
<circle cx="297.17" cy="31.6" r="2.0" fill="#2e62a0"/>
<circle cx="303.08" cy="31.6" r="2.0" fill="#2e62a0"/>
<circle cx="308.99" cy="31.6" r="2.0" fill="#2e62a0"/>
<circle cx="314.9" cy="31.6" r="2.0" fill="#2e62a0"/>
<circle cx="320.81" cy="31.6" r="2.0" fill="#2e62a0"/>
<circle cx="326.72" cy="31.6" r="2.0" fill="#2e62a0"/>
<circle cx="332.63" cy="31.6" r="2.0" fill="#2e62a0"/>
<circle cx="338.5" cy="31.6" r="2.0" fill="#2e62a0"/>
<circle cx="344.7" cy="32.8" r="2.0" fill="#2e62a0"/>
<circle cx="350.9" cy="35.7" r="2.0" fill="#2e62a0"/>
<circle cx="357.2" cy="40.1" r="2.0" fill="#2e62a0"/>
<circle cx="364" cy="47.4" r="2.0" fill="#2e62a0"/>
<circle cx="369.9" cy="54.7" r="2.0" fill="#2e62a0"/>
<circle cx="376" cy="64.1" r="2.0" fill="#2e62a0"/>
<polyline points="255.8,31.4 261.71,31.4 267.62,31.4 273.53,31.4 279.44,31.4 285.35,31.4 291.26,31.4 297.17,31.4 303.08,31.4 308.99,31.4 314.9,31.4 320.81,31.4 326.72,31.4 332.63,31.4 338.5,31.4 344.7,31.8 350.9,32.4 357.2,34.2 364,37.1 369.9,40 376,43.9" fill="none" stroke="#2e62a0" stroke-width="0.85"/>
<circle cx="255.8" cy="31.4" r="1.6" fill="#fff" stroke="#2e62a0" stroke-width="0.85"/>
<circle cx="261.71" cy="31.4" r="1.6" fill="#fff" stroke="#2e62a0" stroke-width="0.85"/>
<circle cx="267.62" cy="31.4" r="1.6" fill="#fff" stroke="#2e62a0" stroke-width="0.85"/>
<circle cx="273.53" cy="31.4" r="1.6" fill="#fff" stroke="#2e62a0" stroke-width="0.85"/>
<circle cx="279.44" cy="31.4" r="1.6" fill="#fff" stroke="#2e62a0" stroke-width="0.85"/>
<circle cx="285.35" cy="31.4" r="1.6" fill="#fff" stroke="#2e62a0" stroke-width="0.85"/>
<circle cx="291.26" cy="31.4" r="1.6" fill="#fff" stroke="#2e62a0" stroke-width="0.85"/>
<circle cx="297.17" cy="31.4" r="1.6" fill="#fff" stroke="#2e62a0" stroke-width="0.85"/>
<circle cx="303.08" cy="31.4" r="1.6" fill="#fff" stroke="#2e62a0" stroke-width="0.85"/>
<circle cx="308.99" cy="31.4" r="1.6" fill="#fff" stroke="#2e62a0" stroke-width="0.85"/>
<circle cx="314.9" cy="31.4" r="1.6" fill="#fff" stroke="#2e62a0" stroke-width="0.85"/>
<circle cx="320.81" cy="31.4" r="1.6" fill="#fff" stroke="#2e62a0" stroke-width="0.85"/>
<circle cx="326.72" cy="31.4" r="1.6" fill="#fff" stroke="#2e62a0" stroke-width="0.85"/>
<circle cx="332.63" cy="31.4" r="1.6" fill="#fff" stroke="#2e62a0" stroke-width="0.85"/>
<circle cx="338.5" cy="31.4" r="1.6" fill="#fff" stroke="#2e62a0" stroke-width="0.85"/>
<circle cx="344.7" cy="31.8" r="1.6" fill="#fff" stroke="#2e62a0" stroke-width="0.85"/>
<circle cx="350.9" cy="32.4" r="1.6" fill="#fff" stroke="#2e62a0" stroke-width="0.85"/>
<circle cx="357.2" cy="34.2" r="1.6" fill="#fff" stroke="#2e62a0" stroke-width="0.85"/>
<circle cx="364" cy="37.1" r="1.6" fill="#fff" stroke="#2e62a0" stroke-width="0.85"/>
<circle cx="369.9" cy="40" r="1.6" fill="#fff" stroke="#2e62a0" stroke-width="0.85"/>
<circle cx="376" cy="43.9" r="1.6" fill="#fff" stroke="#2e62a0" stroke-width="0.85"/>
<text x="257.2" y="100.5" font-size="7.4" text-anchor="middle" font-weight="normal" fill="#231f20" >G'</text>
<text x="276.5" y="100.5" font-size="7.4" text-anchor="middle" font-weight="normal" fill="#231f20" >G''</text>
<line x1="249" y1="103.4" x2="265.6" y2="103.4" stroke="#8a8a8a" stroke-width="0.8" />
<circle cx="257.2" cy="103.4" r="2.0" fill="#8a8a8a"/>
<line x1="268.3" y1="103.4" x2="285" y2="103.4" stroke="#b0b0b0" stroke-width="0.8" />
<circle cx="276.5" cy="103.4" r="1.6" fill="#fff" stroke="#b0b0b0" stroke-width="0.85"/>
<text x="287.8" y="105.9" font-size="7.4" text-anchor="start" font-weight="normal" fill="#231f20" >0%&#160;&#160; glycerol</text>
<line x1="249" y1="112.8" x2="265.6" y2="112.8" stroke="#ef6f6f" stroke-width="0.8" />
<circle cx="257.2" cy="112.8" r="2.0" fill="#ef6f6f"/>
<line x1="268.3" y1="112.8" x2="285" y2="112.8" stroke="#f4a0a0" stroke-width="0.8" />
<circle cx="276.5" cy="112.8" r="1.6" fill="#fff" stroke="#f4a0a0" stroke-width="0.85"/>
<text x="287.8" y="115.3" font-size="7.4" text-anchor="start" font-weight="normal" fill="#231f20" >25% glycerol</text>
<line x1="249" y1="122.4" x2="265.6" y2="122.4" stroke="#2e62a0" stroke-width="0.8" />
<circle cx="257.2" cy="122.4" r="2.0" fill="#2e62a0"/>
<line x1="268.3" y1="122.4" x2="285" y2="122.4" stroke="#2e62a0" stroke-width="0.8" />
<circle cx="276.5" cy="122.4" r="1.6" fill="#fff" stroke="#2e62a0" stroke-width="0.85"/>
<text x="287.8" y="124.9" font-size="7.4" text-anchor="start" font-weight="normal" fill="#231f20" >50% glycerol</text>
<text x="256.6" y="148.8" font-size="8.8" text-anchor="middle" fill="#231f20">10<tspan font-size="5.28" dy="-5.19">-1</tspan></text>
<text x="286.45" y="148.8" font-size="8.8" text-anchor="middle" fill="#231f20">10<tspan font-size="5.28" dy="-5.19">0</tspan></text>
<text x="316.3" y="148.8" font-size="8.8" text-anchor="middle" fill="#231f20">10<tspan font-size="5.28" dy="-5.19">1</tspan></text>
<text x="346.15" y="148.8" font-size="8.8" text-anchor="middle" fill="#231f20">10<tspan font-size="5.28" dy="-5.19">2</tspan></text>
<text x="376" y="148.8" font-size="8.8" text-anchor="middle" fill="#231f20">10<tspan font-size="5.28" dy="-5.19">3</tspan></text>
<text x="237.6" y="133.2" font-size="8.8" text-anchor="end" fill="#231f20">10<tspan font-size="5.28" dy="-5.19">0</tspan></text>
<text x="237.6" y="94.6" font-size="8.8" text-anchor="end" fill="#231f20">10<tspan font-size="5.28" dy="-5.19">1</tspan></text>
<text x="237.6" y="56" font-size="8.8" text-anchor="end" fill="#231f20">10<tspan font-size="5.28" dy="-5.19">2</tspan></text>
<text x="237.6" y="17.4" font-size="8.8" text-anchor="end" fill="#231f20">10<tspan font-size="5.28" dy="-5.19">3</tspan></text>
<text x="316" y="165" font-size="9.1" text-anchor="middle" font-weight="normal" fill="#231f20" >Oscillation strain (%)</text>
<text transform="translate(214.8,72.5) rotate(-90)" font-size="9.1" text-anchor="middle" fill="#231f20">Shear modulus (Pa)</text>
<text x="206.5" y="13.2" font-size="17" text-anchor="start" font-weight="bold" fill="#000" >b</text>
<line x1="42.6" y1="189.2" x2="186.8" y2="189.2" stroke="#3a3a3a" stroke-width="0.9" />
<line x1="186.8" y1="189.2" x2="186.8" y2="305.3" stroke="#777" stroke-width="0.9" />
<line x1="42.6" y1="305.3" x2="42.6" y2="307.5" stroke="#231f20" stroke-width="0.8" />
<line x1="50.53" y1="305.3" x2="50.53" y2="306.6" stroke="#231f20" stroke-width="0.6" />
<line x1="55.17" y1="305.3" x2="55.17" y2="306.6" stroke="#231f20" stroke-width="0.6" />
<line x1="58.46" y1="305.3" x2="58.46" y2="306.6" stroke="#231f20" stroke-width="0.6" />
<line x1="61.02" y1="305.3" x2="61.02" y2="306.6" stroke="#231f20" stroke-width="0.6" />
<line x1="63.1" y1="305.3" x2="63.1" y2="306.6" stroke="#231f20" stroke-width="0.6" />
<line x1="64.87" y1="305.3" x2="64.87" y2="306.6" stroke="#231f20" stroke-width="0.6" />
<line x1="66.4" y1="305.3" x2="66.4" y2="306.6" stroke="#231f20" stroke-width="0.6" />
<line x1="67.74" y1="305.3" x2="67.74" y2="306.6" stroke="#231f20" stroke-width="0.6" />
<line x1="68.95" y1="305.3" x2="68.95" y2="307.5" stroke="#231f20" stroke-width="0.8" />
<line x1="76.88" y1="305.3" x2="76.88" y2="306.6" stroke="#231f20" stroke-width="0.6" />
<line x1="81.52" y1="305.3" x2="81.52" y2="306.6" stroke="#231f20" stroke-width="0.6" />
<line x1="84.81" y1="305.3" x2="84.81" y2="306.6" stroke="#231f20" stroke-width="0.6" />
<line x1="87.37" y1="305.3" x2="87.37" y2="306.6" stroke="#231f20" stroke-width="0.6" />
<line x1="89.45" y1="305.3" x2="89.45" y2="306.6" stroke="#231f20" stroke-width="0.6" />
<line x1="91.22" y1="305.3" x2="91.22" y2="306.6" stroke="#231f20" stroke-width="0.6" />
<line x1="92.75" y1="305.3" x2="92.75" y2="306.6" stroke="#231f20" stroke-width="0.6" />
<line x1="94.09" y1="305.3" x2="94.09" y2="306.6" stroke="#231f20" stroke-width="0.6" />
<line x1="95.3" y1="305.3" x2="95.3" y2="307.5" stroke="#231f20" stroke-width="0.8" />
<line x1="103.23" y1="305.3" x2="103.23" y2="306.6" stroke="#231f20" stroke-width="0.6" />
<line x1="107.87" y1="305.3" x2="107.87" y2="306.6" stroke="#231f20" stroke-width="0.6" />
<line x1="111.16" y1="305.3" x2="111.16" y2="306.6" stroke="#231f20" stroke-width="0.6" />
<line x1="113.72" y1="305.3" x2="113.72" y2="306.6" stroke="#231f20" stroke-width="0.6" />
<line x1="115.8" y1="305.3" x2="115.8" y2="306.6" stroke="#231f20" stroke-width="0.6" />
<line x1="117.57" y1="305.3" x2="117.57" y2="306.6" stroke="#231f20" stroke-width="0.6" />
<line x1="119.1" y1="305.3" x2="119.1" y2="306.6" stroke="#231f20" stroke-width="0.6" />
<line x1="120.44" y1="305.3" x2="120.44" y2="306.6" stroke="#231f20" stroke-width="0.6" />
<line x1="121.65" y1="305.3" x2="121.65" y2="307.5" stroke="#231f20" stroke-width="0.8" />
<line x1="129.58" y1="305.3" x2="129.58" y2="306.6" stroke="#231f20" stroke-width="0.6" />
<line x1="134.22" y1="305.3" x2="134.22" y2="306.6" stroke="#231f20" stroke-width="0.6" />
<line x1="137.51" y1="305.3" x2="137.51" y2="306.6" stroke="#231f20" stroke-width="0.6" />
<line x1="140.07" y1="305.3" x2="140.07" y2="306.6" stroke="#231f20" stroke-width="0.6" />
<line x1="142.15" y1="305.3" x2="142.15" y2="306.6" stroke="#231f20" stroke-width="0.6" />
<line x1="143.92" y1="305.3" x2="143.92" y2="306.6" stroke="#231f20" stroke-width="0.6" />
<line x1="145.45" y1="305.3" x2="145.45" y2="306.6" stroke="#231f20" stroke-width="0.6" />
<line x1="146.79" y1="305.3" x2="146.79" y2="306.6" stroke="#231f20" stroke-width="0.6" />
<line x1="148" y1="305.3" x2="148" y2="307.5" stroke="#231f20" stroke-width="0.8" />
<line x1="155.93" y1="305.3" x2="155.93" y2="306.6" stroke="#231f20" stroke-width="0.6" />
<line x1="160.57" y1="305.3" x2="160.57" y2="306.6" stroke="#231f20" stroke-width="0.6" />
<line x1="163.86" y1="305.3" x2="163.86" y2="306.6" stroke="#231f20" stroke-width="0.6" />
<line x1="166.42" y1="305.3" x2="166.42" y2="306.6" stroke="#231f20" stroke-width="0.6" />
<line x1="168.5" y1="305.3" x2="168.5" y2="306.6" stroke="#231f20" stroke-width="0.6" />
<line x1="170.27" y1="305.3" x2="170.27" y2="306.6" stroke="#231f20" stroke-width="0.6" />
<line x1="171.8" y1="305.3" x2="171.8" y2="306.6" stroke="#231f20" stroke-width="0.6" />
<line x1="173.14" y1="305.3" x2="173.14" y2="306.6" stroke="#231f20" stroke-width="0.6" />
<line x1="174.35" y1="305.3" x2="174.35" y2="307.5" stroke="#231f20" stroke-width="0.8" />
<line x1="182.28" y1="305.3" x2="182.28" y2="306.6" stroke="#231f20" stroke-width="0.6" />
<line x1="40.4" y1="305.3" x2="42.6" y2="305.3" stroke="#231f20" stroke-width="0.8" />
<line x1="41.3" y1="293.65" x2="42.6" y2="293.65" stroke="#231f20" stroke-width="0.6" />
<line x1="41.3" y1="286.84" x2="42.6" y2="286.84" stroke="#231f20" stroke-width="0.6" />
<line x1="41.3" y1="282" x2="42.6" y2="282" stroke="#231f20" stroke-width="0.6" />
<line x1="41.3" y1="278.25" x2="42.6" y2="278.25" stroke="#231f20" stroke-width="0.6" />
<line x1="41.3" y1="275.19" x2="42.6" y2="275.19" stroke="#231f20" stroke-width="0.6" />
<line x1="41.3" y1="272.59" x2="42.6" y2="272.59" stroke="#231f20" stroke-width="0.6" />
<line x1="41.3" y1="270.35" x2="42.6" y2="270.35" stroke="#231f20" stroke-width="0.6" />
<line x1="41.3" y1="268.37" x2="42.6" y2="268.37" stroke="#231f20" stroke-width="0.6" />
<line x1="40.4" y1="266.6" x2="42.6" y2="266.6" stroke="#231f20" stroke-width="0.8" />
<line x1="41.3" y1="254.95" x2="42.6" y2="254.95" stroke="#231f20" stroke-width="0.6" />
<line x1="41.3" y1="248.14" x2="42.6" y2="248.14" stroke="#231f20" stroke-width="0.6" />
<line x1="41.3" y1="243.3" x2="42.6" y2="243.3" stroke="#231f20" stroke-width="0.6" />
<line x1="41.3" y1="239.55" x2="42.6" y2="239.55" stroke="#231f20" stroke-width="0.6" />
<line x1="41.3" y1="236.49" x2="42.6" y2="236.49" stroke="#231f20" stroke-width="0.6" />
<line x1="41.3" y1="233.89" x2="42.6" y2="233.89" stroke="#231f20" stroke-width="0.6" />
<line x1="41.3" y1="231.65" x2="42.6" y2="231.65" stroke="#231f20" stroke-width="0.6" />
<line x1="41.3" y1="229.67" x2="42.6" y2="229.67" stroke="#231f20" stroke-width="0.6" />
<line x1="40.4" y1="227.9" x2="42.6" y2="227.9" stroke="#231f20" stroke-width="0.8" />
<line x1="41.3" y1="216.25" x2="42.6" y2="216.25" stroke="#231f20" stroke-width="0.6" />
<line x1="41.3" y1="209.44" x2="42.6" y2="209.44" stroke="#231f20" stroke-width="0.6" />
<line x1="41.3" y1="204.6" x2="42.6" y2="204.6" stroke="#231f20" stroke-width="0.6" />
<line x1="41.3" y1="200.85" x2="42.6" y2="200.85" stroke="#231f20" stroke-width="0.6" />
<line x1="41.3" y1="197.79" x2="42.6" y2="197.79" stroke="#231f20" stroke-width="0.6" />
<line x1="41.3" y1="195.19" x2="42.6" y2="195.19" stroke="#231f20" stroke-width="0.6" />
<line x1="41.3" y1="192.95" x2="42.6" y2="192.95" stroke="#231f20" stroke-width="0.6" />
<line x1="41.3" y1="190.97" x2="42.6" y2="190.97" stroke="#231f20" stroke-width="0.6" />
<line x1="40.4" y1="189.2" x2="42.6" y2="189.2" stroke="#231f20" stroke-width="0.8" />
<line x1="42.6" y1="188.8" x2="42.6" y2="305.75" stroke="#231f20" stroke-width="1.0" />
<line x1="42.15" y1="305.3" x2="187.2" y2="305.3" stroke="#231f20" stroke-width="1.0" />
<polyline points="42.8,216.2 48.07,216 53.34,216 58.61,216.2 63.88,216.4 69.15,216.8 74.42,217.4 79.69,218 84.96,219.1 90.23,220.6 95.5,222.6 100.77,224.8 106.04,227.8 111.31,230.8 116.58,233.9 121.85,237.2 127.12,241.1 132.39,245.2 137.66,249.8 142.93,254.7 148.2,259.7 153.47,264.5 158.74,269.1 164.01,274.1 169.28,279.2 174.55,284.2" fill="none" stroke="#8a8a8a" stroke-width="0.85"/>
<circle cx="42.8" cy="216.2" r="2.0" fill="#8a8a8a"/>
<circle cx="48.07" cy="216" r="2.0" fill="#8a8a8a"/>
<circle cx="53.34" cy="216" r="2.0" fill="#8a8a8a"/>
<circle cx="58.61" cy="216.2" r="2.0" fill="#8a8a8a"/>
<circle cx="63.88" cy="216.4" r="2.0" fill="#8a8a8a"/>
<circle cx="69.15" cy="216.8" r="2.0" fill="#8a8a8a"/>
<circle cx="74.42" cy="217.4" r="2.0" fill="#8a8a8a"/>
<circle cx="79.69" cy="218" r="2.0" fill="#8a8a8a"/>
<circle cx="84.96" cy="219.1" r="2.0" fill="#8a8a8a"/>
<circle cx="90.23" cy="220.6" r="2.0" fill="#8a8a8a"/>
<circle cx="95.5" cy="222.6" r="2.0" fill="#8a8a8a"/>
<circle cx="100.77" cy="224.8" r="2.0" fill="#8a8a8a"/>
<circle cx="106.04" cy="227.8" r="2.0" fill="#8a8a8a"/>
<circle cx="111.31" cy="230.8" r="2.0" fill="#8a8a8a"/>
<circle cx="116.58" cy="233.9" r="2.0" fill="#8a8a8a"/>
<circle cx="121.85" cy="237.2" r="2.0" fill="#8a8a8a"/>
<circle cx="127.12" cy="241.1" r="2.0" fill="#8a8a8a"/>
<circle cx="132.39" cy="245.2" r="2.0" fill="#8a8a8a"/>
<circle cx="137.66" cy="249.8" r="2.0" fill="#8a8a8a"/>
<circle cx="142.93" cy="254.7" r="2.0" fill="#8a8a8a"/>
<circle cx="148.2" cy="259.7" r="2.0" fill="#8a8a8a"/>
<circle cx="153.47" cy="264.5" r="2.0" fill="#8a8a8a"/>
<circle cx="158.74" cy="269.1" r="2.0" fill="#8a8a8a"/>
<circle cx="164.01" cy="274.1" r="2.0" fill="#8a8a8a"/>
<circle cx="169.28" cy="279.2" r="2.0" fill="#8a8a8a"/>
<circle cx="174.55" cy="284.2" r="2.0" fill="#8a8a8a"/>
<polyline points="42.8,203 48.07,204 53.34,204.5 58.61,205.5 63.88,207 69.15,208 74.42,209 79.69,210.3 84.96,211.8 90.23,213.5 95.5,215.6 100.77,217.6 106.04,220.8 111.31,223.8 116.58,227.3 121.85,231.3 127.12,235.6 132.39,240 137.66,245.2 142.93,249.7 148.2,254.5 153.47,259.3 158.74,263.2 164.01,267.8 169.28,271.8 174.55,276.4" fill="none" stroke="#ef6f6f" stroke-width="0.85"/>
<circle cx="42.8" cy="203" r="2.0" fill="#ef6f6f"/>
<circle cx="48.07" cy="204" r="2.0" fill="#ef6f6f"/>
<circle cx="53.34" cy="204.5" r="2.0" fill="#ef6f6f"/>
<circle cx="58.61" cy="205.5" r="2.0" fill="#ef6f6f"/>
<circle cx="63.88" cy="207" r="2.0" fill="#ef6f6f"/>
<circle cx="69.15" cy="208" r="2.0" fill="#ef6f6f"/>
<circle cx="74.42" cy="209" r="2.0" fill="#ef6f6f"/>
<circle cx="79.69" cy="210.3" r="2.0" fill="#ef6f6f"/>
<circle cx="84.96" cy="211.8" r="2.0" fill="#ef6f6f"/>
<circle cx="90.23" cy="213.5" r="2.0" fill="#ef6f6f"/>
<circle cx="95.5" cy="215.6" r="2.0" fill="#ef6f6f"/>
<circle cx="100.77" cy="217.6" r="2.0" fill="#ef6f6f"/>
<circle cx="106.04" cy="220.8" r="2.0" fill="#ef6f6f"/>
<circle cx="111.31" cy="223.8" r="2.0" fill="#ef6f6f"/>
<circle cx="116.58" cy="227.3" r="2.0" fill="#ef6f6f"/>
<circle cx="121.85" cy="231.3" r="2.0" fill="#ef6f6f"/>
<circle cx="127.12" cy="235.6" r="2.0" fill="#ef6f6f"/>
<circle cx="132.39" cy="240" r="2.0" fill="#ef6f6f"/>
<circle cx="137.66" cy="245.2" r="2.0" fill="#ef6f6f"/>
<circle cx="142.93" cy="249.7" r="2.0" fill="#ef6f6f"/>
<circle cx="148.2" cy="254.5" r="2.0" fill="#ef6f6f"/>
<circle cx="153.47" cy="259.3" r="2.0" fill="#ef6f6f"/>
<circle cx="158.74" cy="263.2" r="2.0" fill="#ef6f6f"/>
<circle cx="164.01" cy="267.8" r="2.0" fill="#ef6f6f"/>
<circle cx="169.28" cy="271.8" r="2.0" fill="#ef6f6f"/>
<circle cx="174.55" cy="276.4" r="2.0" fill="#ef6f6f"/>
<polyline points="42.8,202.2 48.07,203.1 53.34,203.9 58.61,205.1 63.88,206.3 69.15,206.9 74.42,208 79.69,209 84.96,210.6 90.23,212.3 95.5,214.7 100.77,218.9 106.04,222.5 111.31,225.8 116.58,229.1 121.85,232.6 127.12,236.3 132.39,240.5 137.66,245.2 142.93,249.7 148.2,254 153.47,258 158.74,261.9 164.01,265.8 169.28,270.2 174.55,273.1" fill="none" stroke="#2e62a0" stroke-width="0.85"/>
<circle cx="42.8" cy="202.2" r="2.0" fill="#2e62a0"/>
<circle cx="48.07" cy="203.1" r="2.0" fill="#2e62a0"/>
<circle cx="53.34" cy="203.9" r="2.0" fill="#2e62a0"/>
<circle cx="58.61" cy="205.1" r="2.0" fill="#2e62a0"/>
<circle cx="63.88" cy="206.3" r="2.0" fill="#2e62a0"/>
<circle cx="69.15" cy="206.9" r="2.0" fill="#2e62a0"/>
<circle cx="74.42" cy="208" r="2.0" fill="#2e62a0"/>
<circle cx="79.69" cy="209" r="2.0" fill="#2e62a0"/>
<circle cx="84.96" cy="210.6" r="2.0" fill="#2e62a0"/>
<circle cx="90.23" cy="212.3" r="2.0" fill="#2e62a0"/>
<circle cx="95.5" cy="214.7" r="2.0" fill="#2e62a0"/>
<circle cx="100.77" cy="218.9" r="2.0" fill="#2e62a0"/>
<circle cx="106.04" cy="222.5" r="2.0" fill="#2e62a0"/>
<circle cx="111.31" cy="225.8" r="2.0" fill="#2e62a0"/>
<circle cx="116.58" cy="229.1" r="2.0" fill="#2e62a0"/>
<circle cx="121.85" cy="232.6" r="2.0" fill="#2e62a0"/>
<circle cx="127.12" cy="236.3" r="2.0" fill="#2e62a0"/>
<circle cx="132.39" cy="240.5" r="2.0" fill="#2e62a0"/>
<circle cx="137.66" cy="245.2" r="2.0" fill="#2e62a0"/>
<circle cx="142.93" cy="249.7" r="2.0" fill="#2e62a0"/>
<circle cx="148.2" cy="254" r="2.0" fill="#2e62a0"/>
<circle cx="153.47" cy="258" r="2.0" fill="#2e62a0"/>
<circle cx="158.74" cy="261.9" r="2.0" fill="#2e62a0"/>
<circle cx="164.01" cy="265.8" r="2.0" fill="#2e62a0"/>
<circle cx="169.28" cy="270.2" r="2.0" fill="#2e62a0"/>
<circle cx="174.55" cy="273.1" r="2.0" fill="#2e62a0"/>
<line x1="47.3" y1="279.1" x2="64" y2="279.1" stroke="#8a8a8a" stroke-width="0.8" />
<circle cx="55.7" cy="279.1" r="2.0" fill="#8a8a8a"/>
<text x="67.6" y="281.6" font-size="7.4" text-anchor="start" font-weight="normal" fill="#231f20" >0 mol/L LiCl</text>
<line x1="47.3" y1="288.6" x2="64" y2="288.6" stroke="#ef6f6f" stroke-width="0.8" />
<circle cx="55.7" cy="288.6" r="2.0" fill="#ef6f6f"/>
<text x="67.6" y="291.1" font-size="7.4" text-anchor="start" font-weight="normal" fill="#231f20" >1 mol/L LiCl</text>
<line x1="47.3" y1="297.6" x2="64" y2="297.6" stroke="#2e62a0" stroke-width="0.8" />
<circle cx="55.7" cy="297.6" r="2.0" fill="#2e62a0"/>
<text x="67.6" y="300.1" font-size="7.4" text-anchor="start" font-weight="normal" fill="#231f20" >2 mol/L LiCl</text>
<text x="43.4" y="322.8" font-size="8.8" text-anchor="middle" fill="#231f20">10<tspan font-size="5.28" dy="-5.19">-2</tspan></text>
<text x="69.75" y="322.8" font-size="8.8" text-anchor="middle" fill="#231f20">10<tspan font-size="5.28" dy="-5.19">-1</tspan></text>
<text x="96.1" y="322.8" font-size="8.8" text-anchor="middle" fill="#231f20">10<tspan font-size="5.28" dy="-5.19">0</tspan></text>
<text x="122.45" y="322.8" font-size="8.8" text-anchor="middle" fill="#231f20">10<tspan font-size="5.28" dy="-5.19">1</tspan></text>
<text x="148.8" y="322.8" font-size="8.8" text-anchor="middle" fill="#231f20">10<tspan font-size="5.28" dy="-5.19">2</tspan></text>
<text x="175.15" y="322.8" font-size="8.8" text-anchor="middle" fill="#231f20">10<tspan font-size="5.28" dy="-5.19">3</tspan></text>
<text x="35.9" y="308.3" font-size="8.8" text-anchor="end" fill="#231f20">10<tspan font-size="5.28" dy="-5.19">0</tspan></text>
<text x="35.9" y="269.6" font-size="8.8" text-anchor="end" fill="#231f20">10<tspan font-size="5.28" dy="-5.19">1</tspan></text>
<text x="35.9" y="230.9" font-size="8.8" text-anchor="end" fill="#231f20">10<tspan font-size="5.28" dy="-5.19">2</tspan></text>
<text x="35.9" y="192.2" font-size="8.8" text-anchor="end" fill="#231f20">10<tspan font-size="5.28" dy="-5.19">3</tspan></text>
<text x="114.6" y="339.9" font-size="9.1" text-anchor="middle" font-weight="normal" fill="#231f20" >Shear rate (s<tspan font-size="5.7" dy="-3.5">-1</tspan><tspan dy="3.5">)</tspan></text>
<text transform="translate(12.5,249.9) rotate(-90)" font-size="9.1" text-anchor="middle" fill="#231f20">Viscosity (Pas)</text>
<text x="1.5" y="189" font-size="17" text-anchor="start" font-weight="bold" fill="#000" >c</text>
<line x1="244.3" y1="188.9" x2="388.5" y2="188.9" stroke="#555" stroke-width="0.9" />
<line x1="388.5" y1="188.9" x2="388.5" y2="305.4" stroke="#666" stroke-width="0.9" />
<line x1="244.6" y1="305.4" x2="244.6" y2="307.6" stroke="#231f20" stroke-width="0.8" />
<line x1="254.35" y1="305.4" x2="254.35" y2="306.7" stroke="#231f20" stroke-width="0.6" />
<line x1="260.06" y1="305.4" x2="260.06" y2="306.7" stroke="#231f20" stroke-width="0.6" />
<line x1="264.11" y1="305.4" x2="264.11" y2="306.7" stroke="#231f20" stroke-width="0.6" />
<line x1="267.25" y1="305.4" x2="267.25" y2="306.7" stroke="#231f20" stroke-width="0.6" />
<line x1="269.81" y1="305.4" x2="269.81" y2="306.7" stroke="#231f20" stroke-width="0.6" />
<line x1="271.98" y1="305.4" x2="271.98" y2="306.7" stroke="#231f20" stroke-width="0.6" />
<line x1="273.86" y1="305.4" x2="273.86" y2="306.7" stroke="#231f20" stroke-width="0.6" />
<line x1="275.52" y1="305.4" x2="275.52" y2="306.7" stroke="#231f20" stroke-width="0.6" />
<line x1="277" y1="305.4" x2="277" y2="307.6" stroke="#231f20" stroke-width="0.8" />
<line x1="286.75" y1="305.4" x2="286.75" y2="306.7" stroke="#231f20" stroke-width="0.6" />
<line x1="292.46" y1="305.4" x2="292.46" y2="306.7" stroke="#231f20" stroke-width="0.6" />
<line x1="296.51" y1="305.4" x2="296.51" y2="306.7" stroke="#231f20" stroke-width="0.6" />
<line x1="299.65" y1="305.4" x2="299.65" y2="306.7" stroke="#231f20" stroke-width="0.6" />
<line x1="302.21" y1="305.4" x2="302.21" y2="306.7" stroke="#231f20" stroke-width="0.6" />
<line x1="304.38" y1="305.4" x2="304.38" y2="306.7" stroke="#231f20" stroke-width="0.6" />
<line x1="306.26" y1="305.4" x2="306.26" y2="306.7" stroke="#231f20" stroke-width="0.6" />
<line x1="307.92" y1="305.4" x2="307.92" y2="306.7" stroke="#231f20" stroke-width="0.6" />
<line x1="309.4" y1="305.4" x2="309.4" y2="307.6" stroke="#231f20" stroke-width="0.8" />
<line x1="319.15" y1="305.4" x2="319.15" y2="306.7" stroke="#231f20" stroke-width="0.6" />
<line x1="324.86" y1="305.4" x2="324.86" y2="306.7" stroke="#231f20" stroke-width="0.6" />
<line x1="328.91" y1="305.4" x2="328.91" y2="306.7" stroke="#231f20" stroke-width="0.6" />
<line x1="332.05" y1="305.4" x2="332.05" y2="306.7" stroke="#231f20" stroke-width="0.6" />
<line x1="334.61" y1="305.4" x2="334.61" y2="306.7" stroke="#231f20" stroke-width="0.6" />
<line x1="336.78" y1="305.4" x2="336.78" y2="306.7" stroke="#231f20" stroke-width="0.6" />
<line x1="338.66" y1="305.4" x2="338.66" y2="306.7" stroke="#231f20" stroke-width="0.6" />
<line x1="340.32" y1="305.4" x2="340.32" y2="306.7" stroke="#231f20" stroke-width="0.6" />
<line x1="341.8" y1="305.4" x2="341.8" y2="307.6" stroke="#231f20" stroke-width="0.8" />
<line x1="351.55" y1="305.4" x2="351.55" y2="306.7" stroke="#231f20" stroke-width="0.6" />
<line x1="357.26" y1="305.4" x2="357.26" y2="306.7" stroke="#231f20" stroke-width="0.6" />
<line x1="361.31" y1="305.4" x2="361.31" y2="306.7" stroke="#231f20" stroke-width="0.6" />
<line x1="364.45" y1="305.4" x2="364.45" y2="306.7" stroke="#231f20" stroke-width="0.6" />
<line x1="367.01" y1="305.4" x2="367.01" y2="306.7" stroke="#231f20" stroke-width="0.6" />
<line x1="369.18" y1="305.4" x2="369.18" y2="306.7" stroke="#231f20" stroke-width="0.6" />
<line x1="371.06" y1="305.4" x2="371.06" y2="306.7" stroke="#231f20" stroke-width="0.6" />
<line x1="372.72" y1="305.4" x2="372.72" y2="306.7" stroke="#231f20" stroke-width="0.6" />
<line x1="374.2" y1="305.4" x2="374.2" y2="307.6" stroke="#231f20" stroke-width="0.8" />
<line x1="383.95" y1="305.4" x2="383.95" y2="306.7" stroke="#231f20" stroke-width="0.6" />
<line x1="242.1" y1="305.4" x2="244.3" y2="305.4" stroke="#231f20" stroke-width="0.8" />
<line x1="243" y1="293.72" x2="244.3" y2="293.72" stroke="#231f20" stroke-width="0.6" />
<line x1="243" y1="286.89" x2="244.3" y2="286.89" stroke="#231f20" stroke-width="0.6" />
<line x1="243" y1="282.04" x2="244.3" y2="282.04" stroke="#231f20" stroke-width="0.6" />
<line x1="243" y1="278.28" x2="244.3" y2="278.28" stroke="#231f20" stroke-width="0.6" />
<line x1="243" y1="275.21" x2="244.3" y2="275.21" stroke="#231f20" stroke-width="0.6" />
<line x1="243" y1="272.61" x2="244.3" y2="272.61" stroke="#231f20" stroke-width="0.6" />
<line x1="243" y1="270.36" x2="244.3" y2="270.36" stroke="#231f20" stroke-width="0.6" />
<line x1="243" y1="268.38" x2="244.3" y2="268.38" stroke="#231f20" stroke-width="0.6" />
<line x1="242.1" y1="266.6" x2="244.3" y2="266.6" stroke="#231f20" stroke-width="0.8" />
<line x1="243" y1="254.92" x2="244.3" y2="254.92" stroke="#231f20" stroke-width="0.6" />
<line x1="243" y1="248.09" x2="244.3" y2="248.09" stroke="#231f20" stroke-width="0.6" />
<line x1="243" y1="243.24" x2="244.3" y2="243.24" stroke="#231f20" stroke-width="0.6" />
<line x1="243" y1="239.48" x2="244.3" y2="239.48" stroke="#231f20" stroke-width="0.6" />
<line x1="243" y1="236.41" x2="244.3" y2="236.41" stroke="#231f20" stroke-width="0.6" />
<line x1="243" y1="233.81" x2="244.3" y2="233.81" stroke="#231f20" stroke-width="0.6" />
<line x1="243" y1="231.56" x2="244.3" y2="231.56" stroke="#231f20" stroke-width="0.6" />
<line x1="243" y1="229.58" x2="244.3" y2="229.58" stroke="#231f20" stroke-width="0.6" />
<line x1="242.1" y1="227.8" x2="244.3" y2="227.8" stroke="#231f20" stroke-width="0.8" />
<line x1="243" y1="216.12" x2="244.3" y2="216.12" stroke="#231f20" stroke-width="0.6" />
<line x1="243" y1="209.29" x2="244.3" y2="209.29" stroke="#231f20" stroke-width="0.6" />
<line x1="243" y1="204.44" x2="244.3" y2="204.44" stroke="#231f20" stroke-width="0.6" />
<line x1="243" y1="200.68" x2="244.3" y2="200.68" stroke="#231f20" stroke-width="0.6" />
<line x1="243" y1="197.61" x2="244.3" y2="197.61" stroke="#231f20" stroke-width="0.6" />
<line x1="243" y1="195.01" x2="244.3" y2="195.01" stroke="#231f20" stroke-width="0.6" />
<line x1="243" y1="192.76" x2="244.3" y2="192.76" stroke="#231f20" stroke-width="0.6" />
<line x1="243" y1="190.78" x2="244.3" y2="190.78" stroke="#231f20" stroke-width="0.6" />
<line x1="242.1" y1="189" x2="244.3" y2="189" stroke="#231f20" stroke-width="0.8" />
<line x1="244.3" y1="188.5" x2="244.3" y2="305.85" stroke="#231f20" stroke-width="1.0" />
<line x1="243.85" y1="305.4" x2="388.9" y2="305.4" stroke="#231f20" stroke-width="1.0" />
<polyline points="244.6,213 251.02,213 257.44,213 263.86,213 270.28,213 276.7,213 283.12,213 289.54,213 295.96,213 302.38,213 308.8,213 315.3,213 321.7,213 328.3,213 334.9,213.9 341.5,215.3 348.3,217.6 355.2,222 362,229 368.7,237.5 375.4,247.7" fill="none" stroke="#8a8a8a" stroke-width="0.85"/>
<circle cx="244.6" cy="213" r="2.0" fill="#8a8a8a"/>
<circle cx="251.02" cy="213" r="2.0" fill="#8a8a8a"/>
<circle cx="257.44" cy="213" r="2.0" fill="#8a8a8a"/>
<circle cx="263.86" cy="213" r="2.0" fill="#8a8a8a"/>
<circle cx="270.28" cy="213" r="2.0" fill="#8a8a8a"/>
<circle cx="276.7" cy="213" r="2.0" fill="#8a8a8a"/>
<circle cx="283.12" cy="213" r="2.0" fill="#8a8a8a"/>
<circle cx="289.54" cy="213" r="2.0" fill="#8a8a8a"/>
<circle cx="295.96" cy="213" r="2.0" fill="#8a8a8a"/>
<circle cx="302.38" cy="213" r="2.0" fill="#8a8a8a"/>
<circle cx="308.8" cy="213" r="2.0" fill="#8a8a8a"/>
<circle cx="315.3" cy="213" r="2.0" fill="#8a8a8a"/>
<circle cx="321.7" cy="213" r="2.0" fill="#8a8a8a"/>
<circle cx="328.3" cy="213" r="2.0" fill="#8a8a8a"/>
<circle cx="334.9" cy="213.9" r="2.0" fill="#8a8a8a"/>
<circle cx="341.5" cy="215.3" r="2.0" fill="#8a8a8a"/>
<circle cx="348.3" cy="217.6" r="2.0" fill="#8a8a8a"/>
<circle cx="355.2" cy="222" r="2.0" fill="#8a8a8a"/>
<circle cx="362" cy="229" r="2.0" fill="#8a8a8a"/>
<circle cx="368.7" cy="237.5" r="2.0" fill="#8a8a8a"/>
<circle cx="375.4" cy="247.7" r="2.0" fill="#8a8a8a"/>
<polyline points="244.6,211.6 251.02,211.6 257.44,211.6 263.86,211.6 270.28,211.6 276.7,211.6 283.12,211.6 289.54,211.6 295.96,211.6 302.38,211.6 308.8,211.6 315.3,211.6 321.7,211.6 328.3,211.6 334.9,211.6 341.5,212.1 348.3,212.9 355.2,214.5 362,216.4 368.7,219.7 375.4,224" fill="none" stroke="#b0b0b0" stroke-width="0.85"/>
<circle cx="244.6" cy="211.6" r="1.6" fill="#fff" stroke="#b0b0b0" stroke-width="0.85"/>
<circle cx="251.02" cy="211.6" r="1.6" fill="#fff" stroke="#b0b0b0" stroke-width="0.85"/>
<circle cx="257.44" cy="211.6" r="1.6" fill="#fff" stroke="#b0b0b0" stroke-width="0.85"/>
<circle cx="263.86" cy="211.6" r="1.6" fill="#fff" stroke="#b0b0b0" stroke-width="0.85"/>
<circle cx="270.28" cy="211.6" r="1.6" fill="#fff" stroke="#b0b0b0" stroke-width="0.85"/>
<circle cx="276.7" cy="211.6" r="1.6" fill="#fff" stroke="#b0b0b0" stroke-width="0.85"/>
<circle cx="283.12" cy="211.6" r="1.6" fill="#fff" stroke="#b0b0b0" stroke-width="0.85"/>
<circle cx="289.54" cy="211.6" r="1.6" fill="#fff" stroke="#b0b0b0" stroke-width="0.85"/>
<circle cx="295.96" cy="211.6" r="1.6" fill="#fff" stroke="#b0b0b0" stroke-width="0.85"/>
<circle cx="302.38" cy="211.6" r="1.6" fill="#fff" stroke="#b0b0b0" stroke-width="0.85"/>
<circle cx="308.8" cy="211.6" r="1.6" fill="#fff" stroke="#b0b0b0" stroke-width="0.85"/>
<circle cx="315.3" cy="211.6" r="1.6" fill="#fff" stroke="#b0b0b0" stroke-width="0.85"/>
<circle cx="321.7" cy="211.6" r="1.6" fill="#fff" stroke="#b0b0b0" stroke-width="0.85"/>
<circle cx="328.3" cy="211.6" r="1.6" fill="#fff" stroke="#b0b0b0" stroke-width="0.85"/>
<circle cx="334.9" cy="211.6" r="1.6" fill="#fff" stroke="#b0b0b0" stroke-width="0.85"/>
<circle cx="341.5" cy="212.1" r="1.6" fill="#fff" stroke="#b0b0b0" stroke-width="0.85"/>
<circle cx="348.3" cy="212.9" r="1.6" fill="#fff" stroke="#b0b0b0" stroke-width="0.85"/>
<circle cx="355.2" cy="214.5" r="1.6" fill="#fff" stroke="#b0b0b0" stroke-width="0.85"/>
<circle cx="362" cy="216.4" r="1.6" fill="#fff" stroke="#b0b0b0" stroke-width="0.85"/>
<circle cx="368.7" cy="219.7" r="1.6" fill="#fff" stroke="#b0b0b0" stroke-width="0.85"/>
<circle cx="375.4" cy="224" r="1.6" fill="#fff" stroke="#b0b0b0" stroke-width="0.85"/>
<polyline points="244.6,204.6 251.02,204.6 257.44,204.6 263.86,204.6 270.28,204.6 276.7,204.6 283.12,204.6 289.54,204.6 295.96,204.6 302.38,204.6 308.8,204.6 315.3,204.6 321.7,204.6 328.3,204.6 334.9,205.5 341.5,207.5 348.3,210.5 355.2,214.1 362,221.8 368.7,229.8 375.4,238.7" fill="none" stroke="#ef6f6f" stroke-width="0.85"/>
<circle cx="244.6" cy="204.6" r="2.0" fill="#ef6f6f"/>
<circle cx="251.02" cy="204.6" r="2.0" fill="#ef6f6f"/>
<circle cx="257.44" cy="204.6" r="2.0" fill="#ef6f6f"/>
<circle cx="263.86" cy="204.6" r="2.0" fill="#ef6f6f"/>
<circle cx="270.28" cy="204.6" r="2.0" fill="#ef6f6f"/>
<circle cx="276.7" cy="204.6" r="2.0" fill="#ef6f6f"/>
<circle cx="283.12" cy="204.6" r="2.0" fill="#ef6f6f"/>
<circle cx="289.54" cy="204.6" r="2.0" fill="#ef6f6f"/>
<circle cx="295.96" cy="204.6" r="2.0" fill="#ef6f6f"/>
<circle cx="302.38" cy="204.6" r="2.0" fill="#ef6f6f"/>
<circle cx="308.8" cy="204.6" r="2.0" fill="#ef6f6f"/>
<circle cx="315.3" cy="204.6" r="2.0" fill="#ef6f6f"/>
<circle cx="321.7" cy="204.6" r="2.0" fill="#ef6f6f"/>
<circle cx="328.3" cy="204.6" r="2.0" fill="#ef6f6f"/>
<circle cx="334.9" cy="205.5" r="2.0" fill="#ef6f6f"/>
<circle cx="341.5" cy="207.5" r="2.0" fill="#ef6f6f"/>
<circle cx="348.3" cy="210.5" r="2.0" fill="#ef6f6f"/>
<circle cx="355.2" cy="214.1" r="2.0" fill="#ef6f6f"/>
<circle cx="362" cy="221.8" r="2.0" fill="#ef6f6f"/>
<circle cx="368.7" cy="229.8" r="2.0" fill="#ef6f6f"/>
<circle cx="375.4" cy="238.7" r="2.0" fill="#ef6f6f"/>
<polyline points="244.6,204.9 251.02,204.9 257.44,204.9 263.86,204.9 270.28,204.9 276.7,204.9 283.12,204.9 289.54,204.9 295.96,204.9 302.38,204.9 308.8,204.9 315.3,204.9 321.7,204.9 328.3,204.9 334.9,204.9 341.5,206.6 348.3,207.4 355.2,209.2 362,211.8 368.7,214.7 375.4,217.6" fill="none" stroke="#ef6f6f" stroke-width="0.85"/>
<circle cx="244.6" cy="204.9" r="1.6" fill="#fff" stroke="#ef6f6f" stroke-width="0.85"/>
<circle cx="251.02" cy="204.9" r="1.6" fill="#fff" stroke="#ef6f6f" stroke-width="0.85"/>
<circle cx="257.44" cy="204.9" r="1.6" fill="#fff" stroke="#ef6f6f" stroke-width="0.85"/>
<circle cx="263.86" cy="204.9" r="1.6" fill="#fff" stroke="#ef6f6f" stroke-width="0.85"/>
<circle cx="270.28" cy="204.9" r="1.6" fill="#fff" stroke="#ef6f6f" stroke-width="0.85"/>
<circle cx="276.7" cy="204.9" r="1.6" fill="#fff" stroke="#ef6f6f" stroke-width="0.85"/>
<circle cx="283.12" cy="204.9" r="1.6" fill="#fff" stroke="#ef6f6f" stroke-width="0.85"/>
<circle cx="289.54" cy="204.9" r="1.6" fill="#fff" stroke="#ef6f6f" stroke-width="0.85"/>
<circle cx="295.96" cy="204.9" r="1.6" fill="#fff" stroke="#ef6f6f" stroke-width="0.85"/>
<circle cx="302.38" cy="204.9" r="1.6" fill="#fff" stroke="#ef6f6f" stroke-width="0.85"/>
<circle cx="308.8" cy="204.9" r="1.6" fill="#fff" stroke="#ef6f6f" stroke-width="0.85"/>
<circle cx="315.3" cy="204.9" r="1.6" fill="#fff" stroke="#ef6f6f" stroke-width="0.85"/>
<circle cx="321.7" cy="204.9" r="1.6" fill="#fff" stroke="#ef6f6f" stroke-width="0.85"/>
<circle cx="328.3" cy="204.9" r="1.6" fill="#fff" stroke="#ef6f6f" stroke-width="0.85"/>
<circle cx="334.9" cy="204.9" r="1.6" fill="#fff" stroke="#ef6f6f" stroke-width="0.85"/>
<circle cx="341.5" cy="206.6" r="1.6" fill="#fff" stroke="#ef6f6f" stroke-width="0.85"/>
<circle cx="348.3" cy="207.4" r="1.6" fill="#fff" stroke="#ef6f6f" stroke-width="0.85"/>
<circle cx="355.2" cy="209.2" r="1.6" fill="#fff" stroke="#ef6f6f" stroke-width="0.85"/>
<circle cx="362" cy="211.8" r="1.6" fill="#fff" stroke="#ef6f6f" stroke-width="0.85"/>
<circle cx="368.7" cy="214.7" r="1.6" fill="#fff" stroke="#ef6f6f" stroke-width="0.85"/>
<circle cx="375.4" cy="217.6" r="1.6" fill="#fff" stroke="#ef6f6f" stroke-width="0.85"/>
<polyline points="244.6,206.8 251.02,206.8 257.44,206.8 263.86,206.8 270.28,206.8 276.7,206.8 283.12,206.8 289.54,206.8 295.96,206.8 302.38,206.8 308.8,206.8 315.3,206.8 321.7,206.8 328.3,206.8 334.9,207.8 341.5,209.2 348.3,212.1 355.2,217.1 362,222.6 368.7,229.6 375.4,237.6" fill="none" stroke="#2e62a0" stroke-width="0.85"/>
<circle cx="244.6" cy="206.8" r="2.0" fill="#2e62a0"/>
<circle cx="251.02" cy="206.8" r="2.0" fill="#2e62a0"/>
<circle cx="257.44" cy="206.8" r="2.0" fill="#2e62a0"/>
<circle cx="263.86" cy="206.8" r="2.0" fill="#2e62a0"/>
<circle cx="270.28" cy="206.8" r="2.0" fill="#2e62a0"/>
<circle cx="276.7" cy="206.8" r="2.0" fill="#2e62a0"/>
<circle cx="283.12" cy="206.8" r="2.0" fill="#2e62a0"/>
<circle cx="289.54" cy="206.8" r="2.0" fill="#2e62a0"/>
<circle cx="295.96" cy="206.8" r="2.0" fill="#2e62a0"/>
<circle cx="302.38" cy="206.8" r="2.0" fill="#2e62a0"/>
<circle cx="308.8" cy="206.8" r="2.0" fill="#2e62a0"/>
<circle cx="315.3" cy="206.8" r="2.0" fill="#2e62a0"/>
<circle cx="321.7" cy="206.8" r="2.0" fill="#2e62a0"/>
<circle cx="328.3" cy="206.8" r="2.0" fill="#2e62a0"/>
<circle cx="334.9" cy="207.8" r="2.0" fill="#2e62a0"/>
<circle cx="341.5" cy="209.2" r="2.0" fill="#2e62a0"/>
<circle cx="348.3" cy="212.1" r="2.0" fill="#2e62a0"/>
<circle cx="355.2" cy="217.1" r="2.0" fill="#2e62a0"/>
<circle cx="362" cy="222.6" r="2.0" fill="#2e62a0"/>
<circle cx="368.7" cy="229.6" r="2.0" fill="#2e62a0"/>
<circle cx="375.4" cy="237.6" r="2.0" fill="#2e62a0"/>
<polyline points="244.6,206.9 251.02,206.9 257.44,206.9 263.86,206.9 270.28,206.9 276.7,206.9 283.12,206.9 289.54,206.9 295.96,206.9 302.38,206.9 308.8,206.9 315.3,206.9 321.7,206.9 328.3,206.9 334.9,206.9 341.5,207.1 348.3,208 355.2,210.4 362,212.7 368.7,215 375.4,218.3" fill="none" stroke="#2e62a0" stroke-width="0.85"/>
<circle cx="244.6" cy="206.9" r="1.6" fill="#fff" stroke="#2e62a0" stroke-width="0.85"/>
<circle cx="251.02" cy="206.9" r="1.6" fill="#fff" stroke="#2e62a0" stroke-width="0.85"/>
<circle cx="257.44" cy="206.9" r="1.6" fill="#fff" stroke="#2e62a0" stroke-width="0.85"/>
<circle cx="263.86" cy="206.9" r="1.6" fill="#fff" stroke="#2e62a0" stroke-width="0.85"/>
<circle cx="270.28" cy="206.9" r="1.6" fill="#fff" stroke="#2e62a0" stroke-width="0.85"/>
<circle cx="276.7" cy="206.9" r="1.6" fill="#fff" stroke="#2e62a0" stroke-width="0.85"/>
<circle cx="283.12" cy="206.9" r="1.6" fill="#fff" stroke="#2e62a0" stroke-width="0.85"/>
<circle cx="289.54" cy="206.9" r="1.6" fill="#fff" stroke="#2e62a0" stroke-width="0.85"/>
<circle cx="295.96" cy="206.9" r="1.6" fill="#fff" stroke="#2e62a0" stroke-width="0.85"/>
<circle cx="302.38" cy="206.9" r="1.6" fill="#fff" stroke="#2e62a0" stroke-width="0.85"/>
<circle cx="308.8" cy="206.9" r="1.6" fill="#fff" stroke="#2e62a0" stroke-width="0.85"/>
<circle cx="315.3" cy="206.9" r="1.6" fill="#fff" stroke="#2e62a0" stroke-width="0.85"/>
<circle cx="321.7" cy="206.9" r="1.6" fill="#fff" stroke="#2e62a0" stroke-width="0.85"/>
<circle cx="328.3" cy="206.9" r="1.6" fill="#fff" stroke="#2e62a0" stroke-width="0.85"/>
<circle cx="334.9" cy="206.9" r="1.6" fill="#fff" stroke="#2e62a0" stroke-width="0.85"/>
<circle cx="341.5" cy="207.1" r="1.6" fill="#fff" stroke="#2e62a0" stroke-width="0.85"/>
<circle cx="348.3" cy="208" r="1.6" fill="#fff" stroke="#2e62a0" stroke-width="0.85"/>
<circle cx="355.2" cy="210.4" r="1.6" fill="#fff" stroke="#2e62a0" stroke-width="0.85"/>
<circle cx="362" cy="212.7" r="1.6" fill="#fff" stroke="#2e62a0" stroke-width="0.85"/>
<circle cx="368.7" cy="215" r="1.6" fill="#fff" stroke="#2e62a0" stroke-width="0.85"/>
<circle cx="375.4" cy="218.3" r="1.6" fill="#fff" stroke="#2e62a0" stroke-width="0.85"/>
<text x="257.6" y="274.5" font-size="7.4" text-anchor="middle" font-weight="normal" fill="#231f20" >G'</text>
<text x="277.9" y="274.5" font-size="7.4" text-anchor="middle" font-weight="normal" fill="#231f20" >G''</text>
<line x1="249.3" y1="279.5" x2="265.9" y2="279.5" stroke="#8a8a8a" stroke-width="0.8" />
<circle cx="257.6" cy="279.5" r="2.0" fill="#8a8a8a"/>
<line x1="269" y1="279.5" x2="286" y2="279.5" stroke="#b0b0b0" stroke-width="0.8" />
<circle cx="277.9" cy="279.5" r="1.6" fill="#fff" stroke="#b0b0b0" stroke-width="0.85"/>
<text x="288.1" y="282" font-size="7.4" text-anchor="start" font-weight="normal" fill="#231f20" >0 mol/L LiCl</text>
<line x1="249.3" y1="288.8" x2="265.9" y2="288.8" stroke="#ef6f6f" stroke-width="0.8" />
<circle cx="257.6" cy="288.8" r="2.0" fill="#ef6f6f"/>
<line x1="269" y1="288.8" x2="286" y2="288.8" stroke="#f4a0a0" stroke-width="0.8" />
<circle cx="277.9" cy="288.8" r="1.6" fill="#fff" stroke="#f4a0a0" stroke-width="0.85"/>
<text x="288.1" y="291.3" font-size="7.4" text-anchor="start" font-weight="normal" fill="#231f20" >1 mol/L LiCl</text>
<line x1="249.3" y1="297.8" x2="265.9" y2="297.8" stroke="#2e62a0" stroke-width="0.8" />
<circle cx="257.6" cy="297.8" r="2.0" fill="#2e62a0"/>
<line x1="269" y1="297.8" x2="286" y2="297.8" stroke="#2e62a0" stroke-width="0.8" />
<circle cx="277.9" cy="297.8" r="1.6" fill="#fff" stroke="#2e62a0" stroke-width="0.85"/>
<text x="288.1" y="300.3" font-size="7.4" text-anchor="start" font-weight="normal" fill="#231f20" >2 mol/L LiCl</text>
<text x="245.4" y="323" font-size="8.8" text-anchor="middle" fill="#231f20">10<tspan font-size="5.28" dy="-5.19">-1</tspan></text>
<text x="277.8" y="323" font-size="8.8" text-anchor="middle" fill="#231f20">10<tspan font-size="5.28" dy="-5.19">0</tspan></text>
<text x="310.2" y="323" font-size="8.8" text-anchor="middle" fill="#231f20">10<tspan font-size="5.28" dy="-5.19">1</tspan></text>
<text x="342.6" y="323" font-size="8.8" text-anchor="middle" fill="#231f20">10<tspan font-size="5.28" dy="-5.19">2</tspan></text>
<text x="375" y="323" font-size="8.8" text-anchor="middle" fill="#231f20">10<tspan font-size="5.28" dy="-5.19">3</tspan></text>
<text x="237.6" y="308.4" font-size="8.8" text-anchor="end" fill="#231f20">10<tspan font-size="5.28" dy="-5.19">0</tspan></text>
<text x="237.6" y="269.6" font-size="8.8" text-anchor="end" fill="#231f20">10<tspan font-size="5.28" dy="-5.19">1</tspan></text>
<text x="237.6" y="230.8" font-size="8.8" text-anchor="end" fill="#231f20">10<tspan font-size="5.28" dy="-5.19">2</tspan></text>
<text x="237.6" y="192" font-size="8.8" text-anchor="end" fill="#231f20">10<tspan font-size="5.28" dy="-5.19">3</tspan></text>
<text x="304.6" y="338" font-size="9.1" text-anchor="middle" font-weight="normal" fill="#231f20" >Oscillation strain (%)</text>
<text transform="translate(214.8,247.2) rotate(-90)" font-size="9.1" text-anchor="middle" fill="#231f20">Shear modulus (Pa)</text>
<text x="206.5" y="189.3" font-size="17" text-anchor="start" font-weight="bold" fill="#000" >d</text>
<rect x="425.2" y="12.8" width="127" height="58" fill="#8397b6"/>
<g transform="translate(425.2,37.2) skewY(1.26)"><rect x="0" y="0" width="127" height="12.2" fill="url(#ch1)"/></g>
<circle cx="442.26" cy="61.95" r="0.57" fill="#3a4a66" opacity="0.4"/>
<circle cx="488.12" cy="38.87" r="0.53" fill="#3a4a66" opacity="0.62"/>
<circle cx="437.12" cy="14.44" r="0.59" fill="#3a4a66" opacity="0.47"/>
<circle cx="522.01" cy="12.92" r="0.46" fill="#3a4a66" opacity="0.59"/>
<circle cx="454.25" cy="67.63" r="0.62" fill="#3a4a66" opacity="0.31"/>
<circle cx="428.43" cy="44.2" r="0.63" fill="#3a4a66" opacity="0.45"/>
<circle cx="452.71" cy="37.28" r="0.31" fill="#3a4a66" opacity="0.39"/>
<circle cx="480.81" cy="41.56" r="0.38" fill="#3a4a66" opacity="0.39"/>
<circle cx="452.99" cy="39.46" r="0.4" fill="#3a4a66" opacity="0.31"/>
<circle cx="531.57" cy="45.07" r="0.52" fill="#3a4a66" opacity="0.37"/>
<circle cx="551.25" cy="62.68" r="0.34" fill="#3a4a66" opacity="0.43"/>
<circle cx="516.83" cy="54.05" r="0.63" fill="#3a4a66" opacity="0.47"/>
<circle cx="530.61" cy="51.68" r="0.41" fill="#3a4a66" opacity="0.54"/>
<circle cx="537.27" cy="61.88" r="0.48" fill="#3a4a66" opacity="0.54"/>
<circle cx="429.58" cy="26.88" r="0.58" fill="#3a4a66" opacity="0.47"/>
<circle cx="447.17" cy="44.63" r="0.55" fill="#3a4a66" opacity="0.57"/>
<circle cx="472.79" cy="38.26" r="0.48" fill="#3a4a66" opacity="0.61"/>
<circle cx="491.36" cy="35.61" r="0.47" fill="#3a4a66" opacity="0.31"/>
<circle cx="430.72" cy="53.6" r="0.64" fill="#3a4a66" opacity="0.54"/>
<circle cx="475.19" cy="22.68" r="0.48" fill="#3a4a66" opacity="0.69"/>
<circle cx="523.06" cy="44.1" r="0.6" fill="#3a4a66" opacity="0.39"/>
<circle cx="490.45" cy="68.04" r="0.5" fill="#3a4a66" opacity="0.48"/>
<rect x="558.2" y="12.8" width="126.8" height="58" fill="#8397b6"/>
<g transform="translate(558.2,34.2) skewY(1.49)"><rect x="0" y="0" width="126.8" height="11.9" fill="url(#ch1)"/></g>
<circle cx="679.43" cy="67.77" r="0.32" fill="#3a4a66" opacity="0.33"/>
<circle cx="664.14" cy="55.49" r="0.53" fill="#3a4a66" opacity="0.42"/>
<circle cx="635.03" cy="47.99" r="0.5" fill="#3a4a66" opacity="0.36"/>
<circle cx="612.81" cy="35.62" r="0.55" fill="#3a4a66" opacity="0.7"/>
<circle cx="678.58" cy="44.36" r="0.46" fill="#3a4a66" opacity="0.41"/>
<circle cx="562.76" cy="14.39" r="0.46" fill="#3a4a66" opacity="0.43"/>
<circle cx="606.39" cy="64.52" r="0.48" fill="#3a4a66" opacity="0.52"/>
<circle cx="588.14" cy="14.18" r="0.41" fill="#3a4a66" opacity="0.35"/>
<circle cx="622.9" cy="70.72" r="0.54" fill="#3a4a66" opacity="0.37"/>
<circle cx="671.5" cy="59.01" r="0.56" fill="#3a4a66" opacity="0.66"/>
<circle cx="654.93" cy="58.61" r="0.42" fill="#3a4a66" opacity="0.69"/>
<circle cx="680.17" cy="22.15" r="0.56" fill="#3a4a66" opacity="0.59"/>
<circle cx="616.71" cy="43.56" r="0.47" fill="#3a4a66" opacity="0.67"/>
<circle cx="621.71" cy="61.03" r="0.42" fill="#3a4a66" opacity="0.65"/>
<circle cx="672.28" cy="39.54" r="0.5" fill="#3a4a66" opacity="0.67"/>
<circle cx="649.97" cy="41.02" r="0.38" fill="#3a4a66" opacity="0.43"/>
<circle cx="646.91" cy="22.43" r="0.62" fill="#3a4a66" opacity="0.41"/>
<circle cx="673.76" cy="30.75" r="0.64" fill="#3a4a66" opacity="0.58"/>
<circle cx="622.14" cy="42.83" r="0.53" fill="#3a4a66" opacity="0.54"/>
<circle cx="597.74" cy="24.85" r="0.48" fill="#3a4a66" opacity="0.67"/>
<circle cx="637.23" cy="17.17" r="0.59" fill="#3a4a66" opacity="0.59"/>
<circle cx="673.29" cy="23.9" r="0.56" fill="#3a4a66" opacity="0.32"/>
<rect x="425.2" y="77.1" width="127" height="57.9" fill="#83aad9"/>
<g transform="translate(425.2,90.4) skewY(0.36)"><rect x="0" y="0" width="127" height="28.1" fill="url(#ch2)"/></g>
<circle cx="455.42" cy="108.61" r="0.43" fill="#2a3f7a" opacity="0.54"/>
<circle cx="504.67" cy="80.89" r="0.3" fill="#2a3f7a" opacity="0.63"/>
<circle cx="458.14" cy="90.67" r="0.65" fill="#2a3f7a" opacity="0.49"/>
<circle cx="531.43" cy="104.68" r="0.52" fill="#2a3f7a" opacity="0.36"/>
<circle cx="505.83" cy="127.36" r="0.48" fill="#2a3f7a" opacity="0.6"/>
<circle cx="510.47" cy="80.81" r="0.57" fill="#2a3f7a" opacity="0.54"/>
<circle cx="463.46" cy="78.9" r="0.6" fill="#2a3f7a" opacity="0.49"/>
<circle cx="516.49" cy="127.98" r="0.55" fill="#2a3f7a" opacity="0.67"/>
<circle cx="475.36" cy="123.47" r="0.46" fill="#2a3f7a" opacity="0.67"/>
<circle cx="536.82" cy="82.74" r="0.35" fill="#2a3f7a" opacity="0.39"/>
<circle cx="547.82" cy="102.35" r="0.52" fill="#2a3f7a" opacity="0.42"/>
<circle cx="489.62" cy="99.44" r="0.42" fill="#2a3f7a" opacity="0.53"/>
<circle cx="499.4" cy="129.45" r="0.54" fill="#2a3f7a" opacity="0.67"/>
<circle cx="533.96" cy="134.48" r="0.53" fill="#2a3f7a" opacity="0.37"/>
<circle cx="534.5" cy="132.95" r="0.62" fill="#2a3f7a" opacity="0.53"/>
<circle cx="515.85" cy="89.32" r="0.59" fill="#2a3f7a" opacity="0.53"/>
<circle cx="461.39" cy="80.77" r="0.6" fill="#2a3f7a" opacity="0.7"/>
<circle cx="436.44" cy="123.45" r="0.44" fill="#2a3f7a" opacity="0.36"/>
<circle cx="462.52" cy="121.61" r="0.61" fill="#2a3f7a" opacity="0.32"/>
<circle cx="503.25" cy="79.7" r="0.55" fill="#2a3f7a" opacity="0.43"/>
<circle cx="537.07" cy="133.88" r="0.48" fill="#2a3f7a" opacity="0.7"/>
<circle cx="464.53" cy="81.56" r="0.51" fill="#2a3f7a" opacity="0.31"/>
<rect x="558.2" y="77.1" width="126.8" height="57.9" fill="#83aad9"/>
<g transform="translate(558.2,92.9) skewY(0)"><rect x="0" y="0" width="126.8" height="27.9" fill="url(#ch2)"/></g>
<circle cx="588.13" cy="83.07" r="0.44" fill="#2a3f7a" opacity="0.36"/>
<circle cx="566.63" cy="100.35" r="0.62" fill="#2a3f7a" opacity="0.62"/>
<circle cx="655.22" cy="89.95" r="0.49" fill="#2a3f7a" opacity="0.41"/>
<circle cx="580.09" cy="83.25" r="0.38" fill="#2a3f7a" opacity="0.67"/>
<circle cx="663.31" cy="123.81" r="0.58" fill="#2a3f7a" opacity="0.38"/>
<circle cx="597.49" cy="113.4" r="0.56" fill="#2a3f7a" opacity="0.64"/>
<circle cx="669.79" cy="82.12" r="0.51" fill="#2a3f7a" opacity="0.57"/>
<circle cx="622.35" cy="87.39" r="0.47" fill="#2a3f7a" opacity="0.34"/>
<circle cx="676.71" cy="127.21" r="0.49" fill="#2a3f7a" opacity="0.42"/>
<circle cx="673.44" cy="110.24" r="0.61" fill="#2a3f7a" opacity="0.64"/>
<circle cx="622.66" cy="101.07" r="0.51" fill="#2a3f7a" opacity="0.47"/>
<circle cx="578.66" cy="94.77" r="0.58" fill="#2a3f7a" opacity="0.32"/>
<circle cx="564.07" cy="113.37" r="0.4" fill="#2a3f7a" opacity="0.51"/>
<circle cx="617.95" cy="96.95" r="0.65" fill="#2a3f7a" opacity="0.38"/>
<circle cx="610.54" cy="88.83" r="0.52" fill="#2a3f7a" opacity="0.41"/>
<circle cx="603.32" cy="120.35" r="0.41" fill="#2a3f7a" opacity="0.52"/>
<circle cx="672.87" cy="82.95" r="0.32" fill="#2a3f7a" opacity="0.39"/>
<circle cx="655.22" cy="112.73" r="0.38" fill="#2a3f7a" opacity="0.43"/>
<circle cx="580.71" cy="103.68" r="0.31" fill="#2a3f7a" opacity="0.58"/>
<circle cx="671.8" cy="132.38" r="0.56" fill="#2a3f7a" opacity="0.68"/>
<circle cx="560.51" cy="93.83" r="0.64" fill="#2a3f7a" opacity="0.61"/>
<circle cx="610.24" cy="131.72" r="0.52" fill="#2a3f7a" opacity="0.63"/>
<text x="547.3" y="61.6" font-size="8.8" text-anchor="end" fill="#fff">100 <tspan font-family="Liberation Serif">µ</tspan>m</text>
<rect x="526.3" y="67" width="13.3" height="2" fill="#fff"/>
<text x="680.4" y="62.2" font-size="8.8" text-anchor="end" fill="#fff">100 <tspan font-family="Liberation Serif">µ</tspan>m</text>
<rect x="660" y="67" width="13" height="2" fill="#fff"/>
<text x="547.3" y="126.3" font-size="8.8" text-anchor="end" fill="#fff">100 <tspan font-family="Liberation Serif">µ</tspan>m</text>
<rect x="526.7" y="131.4" width="12.9" height="2" fill="#fff"/>
<text x="680.4" y="127.3" font-size="8.8" text-anchor="end" fill="#fff">100 <tspan font-family="Liberation Serif">µ</tspan>m</text>
<rect x="660" y="132.2" width="13" height="2" fill="#fff"/>
<text x="489" y="9" font-size="8.8" text-anchor="middle" font-weight="normal" fill="#231f20" >Before curing</text>
<text x="621.5" y="9" font-size="8.8" text-anchor="middle" font-weight="normal" fill="#231f20" >Cured</text>
<text transform="translate(419.8,42.8) rotate(-90)" font-size="8.8" text-anchor="middle" fill="#231f20">100 µm</text>
<text transform="translate(419.8,107.3) rotate(-90)" font-size="8.8" text-anchor="middle" fill="#231f20">200 µm</text>
<text x="411.5" y="10" font-size="17.5" text-anchor="start" font-weight="bold" fill="#000" >e</text>
<rect x="424.9" y="187" width="127.3" height="124.8" fill="#738ac5"/>
<rect x="555" y="187" width="127.2" height="124.8" fill="#7389c6"/>
<circle cx="485.6" cy="219.4" r="4.4" fill="none" stroke="#a9bbe6" stroke-width="0.6" opacity="0.7"/>
<circle cx="485.6" cy="219.4" r="7.2" fill="none" stroke="#a9bbe6" stroke-width="0.6" opacity="0.7"/>
<circle cx="485.6" cy="219.4" r="10" fill="none" stroke="#a9bbe6" stroke-width="0.6" opacity="0.7"/>
<circle cx="485.6" cy="219.4" r="12.8" fill="none" stroke="#a9bbe6" stroke-width="0.6" opacity="0.7"/>
<circle cx="485.6" cy="219.4" r="15.6" fill="none" stroke="#a9bbe6" stroke-width="0.6" opacity="0.7"/>
<circle cx="485.6" cy="219.4" r="18.4" fill="none" stroke="#a9bbe6" stroke-width="0.6" opacity="0.7"/>
<circle cx="485.6" cy="219.4" r="21.2" fill="none" stroke="#a9bbe6" stroke-width="0.6" opacity="0.7"/>
<circle cx="485.6" cy="219.4" r="24" fill="none" stroke="#a9bbe6" stroke-width="0.6" opacity="0.7"/>
<rect x="433" y="250.5" width="107" height="53" fill="#ffffff" opacity="0.05"/>
<path d="M 434.5 252.4 L 538.9 252.4 L 538.9 254.86 L 434.5 254.86 L 434.5 257.31 L 538.9 257.31 L 538.9 259.76 L 434.5 259.76 L 434.5 262.22 L 538.9 262.22 L 538.9 264.68 L 434.5 264.68 L 434.5 267.13 L 538.9 267.13 L 538.9 269.59 L 434.5 269.59 L 434.5 272.04 L 538.9 272.04 L 538.9 274.5 L 434.5 274.5 L 434.5 276.95 L 538.9 276.95 L 538.9 279.41 L 434.5 279.41 L 434.5 281.86 L 538.9 281.86 L 538.9 284.31 L 434.5 284.31 L 434.5 286.77 L 538.9 286.77 L 538.9 289.23 L 434.5 289.23 L 434.5 291.68 L 538.9 291.68 L 538.9 294.13 L 434.5 294.13 L 434.5 296.59 L 538.9 296.59 L 538.9 299.05 L 434.5 299.05 L 434.5 301.5 L 538.9 301.5" fill="none" stroke="#b3c3ec" stroke-width="0.65" opacity="0.9"/>
<polyline points="571.1,208.4 652.7,208.4 652.7,222.1 571.1,222.1 571.1,236 651.8,236 651.8,249.6 572,249.6 572,262.9 651,262.9 651,276.2 573,276.2 573,288.9 651,288.9" fill="none" stroke="#c5d2f0" stroke-width="0.6" stroke-linejoin="round" opacity="0.7"/>
<text x="538.5" y="301.4" font-size="10.8" text-anchor="end" fill="#fff">1 cm</text>
<rect x="517.4" y="306.9" width="24.7" height="1.9" fill="#fff"/>
<text x="673.5" y="301" font-size="10.8" text-anchor="end" fill="#fff">1 cm</text>
<rect x="649.3" y="306.1" width="25.4" height="1.9" fill="#fff"/>
<text x="411.5" y="196.9" font-size="17.5" text-anchor="start" font-weight="bold" fill="#000" >f</text>
<line x1="43.1" y1="498.4" x2="43.1" y2="417.6" stroke="#231f20" stroke-width="1.0" />
<line x1="43.1" y1="414.8" x2="43.1" y2="382.6" stroke="#231f20" stroke-width="1.0" />
<line x1="41.1" y1="498" x2="43.1" y2="498" stroke="#231f20" stroke-width="0.8" />
<line x1="41.1" y1="466.16" x2="43.1" y2="466.16" stroke="#231f20" stroke-width="0.8" />
<line x1="41.1" y1="434.32" x2="43.1" y2="434.32" stroke="#231f20" stroke-width="0.8" />
<line x1="41.1" y1="399.3" x2="43.1" y2="399.3" stroke="#231f20" stroke-width="0.8" />
<line x1="41.1" y1="382.9" x2="43.1" y2="382.9" stroke="#231f20" stroke-width="0.8" />
<line x1="41.6" y1="482.08" x2="43.1" y2="482.08" stroke="#231f20" stroke-width="0.7" />
<line x1="41.6" y1="450.24" x2="43.1" y2="450.24" stroke="#231f20" stroke-width="0.7" />
<line x1="41.6" y1="407.5" x2="43.1" y2="407.5" stroke="#231f20" stroke-width="0.7" />
<line x1="41.6" y1="391.1" x2="43.1" y2="391.1" stroke="#231f20" stroke-width="0.7" />
<line x1="41.2" y1="415.6" x2="45" y2="414.2" stroke="#231f20" stroke-width="0.7" />
<line x1="41.2" y1="417.8" x2="45" y2="416.4" stroke="#231f20" stroke-width="0.7" />
<text x="38" y="501.3" font-size="9.0" text-anchor="end" font-weight="normal" fill="#231f20" >0.00</text>
<text x="38" y="469.46" font-size="9.0" text-anchor="end" font-weight="normal" fill="#231f20" >0.04</text>
<text x="38" y="437.62" font-size="9.0" text-anchor="end" font-weight="normal" fill="#231f20" >0.08</text>
<text x="38" y="402.6" font-size="9.0" text-anchor="end" font-weight="normal" fill="#231f20" >0.4</text>
<text x="38" y="386.2" font-size="9.0" text-anchor="end" font-weight="normal" fill="#231f20" >0.6</text>
<line x1="43.1" y1="497.9" x2="187.4" y2="497.9" stroke="#231f20" stroke-width="1.0" />
<line x1="63.8" y1="497.9" x2="63.8" y2="500.1" stroke="#231f20" stroke-width="0.8" />
<line x1="84.4" y1="497.9" x2="84.4" y2="499.1" stroke="#231f20" stroke-width="0.8" />
<line x1="105" y1="497.9" x2="105" y2="500.1" stroke="#231f20" stroke-width="0.8" />
<line x1="125.6" y1="497.9" x2="125.6" y2="499.1" stroke="#231f20" stroke-width="0.8" />
<line x1="146.2" y1="497.9" x2="146.2" y2="500.1" stroke="#231f20" stroke-width="0.8" />
<line x1="166.8" y1="497.9" x2="166.8" y2="499.1" stroke="#231f20" stroke-width="0.8" />
<line x1="187.4" y1="497.9" x2="187.4" y2="500.1" stroke="#231f20" stroke-width="0.8" />
<line x1="43.1" y1="497.9" x2="43.1" y2="499.5" stroke="#231f20" stroke-width="0.8" />
<text x="63.8" y="513.2" font-size="8.9" text-anchor="middle" font-weight="normal" fill="#231f20" >0</text>
<text x="105" y="513.2" font-size="8.9" text-anchor="middle" font-weight="normal" fill="#231f20" >2</text>
<text x="146.2" y="513.2" font-size="8.9" text-anchor="middle" font-weight="normal" fill="#231f20" >4</text>
<text x="187.4" y="513.2" font-size="8.9" text-anchor="middle" font-weight="normal" fill="#231f20" >6</text>
<line x1="202.55" y1="497.9" x2="346.85" y2="497.9" stroke="#231f20" stroke-width="1.0" />
<line x1="226.6" y1="497.9" x2="226.6" y2="500.1" stroke="#231f20" stroke-width="0.8" />
<line x1="250.65" y1="497.9" x2="250.65" y2="499.1" stroke="#231f20" stroke-width="0.8" />
<line x1="274.7" y1="497.9" x2="274.7" y2="500.1" stroke="#231f20" stroke-width="0.8" />
<line x1="298.75" y1="497.9" x2="298.75" y2="499.1" stroke="#231f20" stroke-width="0.8" />
<line x1="322.8" y1="497.9" x2="322.8" y2="500.1" stroke="#231f20" stroke-width="0.8" />
<line x1="346.85" y1="497.9" x2="346.85" y2="499.1" stroke="#231f20" stroke-width="0.8" />
<line x1="202.55" y1="497.9" x2="202.55" y2="499.5" stroke="#231f20" stroke-width="0.8" />
<text x="226.6" y="513.2" font-size="8.9" text-anchor="middle" font-weight="normal" fill="#231f20" >0</text>
<text x="274.7" y="513.2" font-size="8.9" text-anchor="middle" font-weight="normal" fill="#231f20" >1</text>
<text x="322.8" y="513.2" font-size="8.9" text-anchor="middle" font-weight="normal" fill="#231f20" >2</text>
<line x1="359.8" y1="497.9" x2="504.7" y2="497.9" stroke="#231f20" stroke-width="1.0" />
<line x1="380.5" y1="497.9" x2="380.5" y2="500.1" stroke="#231f20" stroke-width="0.8" />
<line x1="401.2" y1="497.9" x2="401.2" y2="499.1" stroke="#231f20" stroke-width="0.8" />
<line x1="421.9" y1="497.9" x2="421.9" y2="500.1" stroke="#231f20" stroke-width="0.8" />
<line x1="442.6" y1="497.9" x2="442.6" y2="499.1" stroke="#231f20" stroke-width="0.8" />
<line x1="463.3" y1="497.9" x2="463.3" y2="500.1" stroke="#231f20" stroke-width="0.8" />
<line x1="484" y1="497.9" x2="484" y2="499.1" stroke="#231f20" stroke-width="0.8" />
<line x1="504.7" y1="497.9" x2="504.7" y2="500.1" stroke="#231f20" stroke-width="0.8" />
<line x1="359.8" y1="497.9" x2="359.8" y2="499.5" stroke="#231f20" stroke-width="0.8" />
<text x="380.5" y="513.2" font-size="8.9" text-anchor="middle" font-weight="normal" fill="#231f20" >0</text>
<text x="421.9" y="513.2" font-size="8.9" text-anchor="middle" font-weight="normal" fill="#231f20" >2</text>
<text x="463.3" y="513.2" font-size="8.9" text-anchor="middle" font-weight="normal" fill="#231f20" >4</text>
<text x="504.7" y="513.2" font-size="8.9" text-anchor="middle" font-weight="normal" fill="#231f20" >6</text>
<line x1="517.98" y1="497.9" x2="662.31" y2="497.9" stroke="#231f20" stroke-width="1.0" />
<line x1="538.6" y1="497.9" x2="538.6" y2="500.1" stroke="#231f20" stroke-width="0.8" />
<line x1="559.22" y1="497.9" x2="559.22" y2="499.1" stroke="#231f20" stroke-width="0.8" />
<line x1="579.84" y1="497.9" x2="579.84" y2="500.1" stroke="#231f20" stroke-width="0.8" />
<line x1="600.45" y1="497.9" x2="600.45" y2="499.1" stroke="#231f20" stroke-width="0.8" />
<line x1="621.07" y1="497.9" x2="621.07" y2="500.1" stroke="#231f20" stroke-width="0.8" />
<line x1="641.69" y1="497.9" x2="641.69" y2="499.1" stroke="#231f20" stroke-width="0.8" />
<line x1="662.31" y1="497.9" x2="662.31" y2="500.1" stroke="#231f20" stroke-width="0.8" />
<line x1="517.98" y1="497.9" x2="517.98" y2="499.5" stroke="#231f20" stroke-width="0.8" />
<text x="538.6" y="513.2" font-size="8.9" text-anchor="middle" font-weight="normal" fill="#231f20" >0</text>
<text x="579.84" y="513.2" font-size="8.9" text-anchor="middle" font-weight="normal" fill="#231f20" >50</text>
<text x="621.07" y="513.2" font-size="8.9" text-anchor="middle" font-weight="normal" fill="#231f20" >100</text>
<text x="662.31" y="513.2" font-size="8.9" text-anchor="middle" font-weight="normal" fill="#231f20" >150</text>
<polyline points="63.8,468.9 65.86,455.9 74.1,458.3 84.4,419.2 166.8,397.5" fill="none" stroke="#13346d" stroke-width="0.75"/>
<line x1="63.8" y1="465.5" x2="63.8" y2="472.5" stroke="#13346d" stroke-width="0.7" />
<line x1="62.4" y1="465.5" x2="65.2" y2="465.5" stroke="#13346d" stroke-width="0.7" />
<line x1="62.4" y1="472.5" x2="65.2" y2="472.5" stroke="#13346d" stroke-width="0.7" />
<line x1="65.86" y1="452.4" x2="65.86" y2="459.2" stroke="#13346d" stroke-width="0.7" />
<line x1="64.46" y1="452.4" x2="67.26" y2="452.4" stroke="#13346d" stroke-width="0.7" />
<line x1="64.46" y1="459.2" x2="67.26" y2="459.2" stroke="#13346d" stroke-width="0.7" />
<line x1="74.1" y1="452" x2="74.1" y2="464.6" stroke="#13346d" stroke-width="0.7" />
<line x1="72.7" y1="452" x2="75.5" y2="452" stroke="#13346d" stroke-width="0.7" />
<line x1="72.7" y1="464.6" x2="75.5" y2="464.6" stroke="#13346d" stroke-width="0.7" />
<line x1="166.8" y1="392.1" x2="166.8" y2="402.7" stroke="#13346d" stroke-width="0.7" />
<line x1="165.4" y1="392.1" x2="168.2" y2="392.1" stroke="#13346d" stroke-width="0.7" />
<line x1="165.4" y1="402.7" x2="168.2" y2="402.7" stroke="#13346d" stroke-width="0.7" />
<circle cx="63.8" cy="468.9" r="2.0" fill="#13346d"/>
<circle cx="65.86" cy="455.9" r="2.0" fill="#13346d"/>
<circle cx="74.1" cy="458.3" r="2.0" fill="#13346d"/>
<circle cx="84.4" cy="419.2" r="2.0" fill="#13346d"/>
<circle cx="166.8" cy="397.5" r="2.0" fill="#13346d"/>
<polyline points="226.6,455.9 250.65,482.7 274.7,487.9 298.75,487.4 322.8,488.6" fill="none" stroke="#1b70a1" stroke-width="0.75"/>
<line x1="226.6" y1="452.2" x2="226.6" y2="459.4" stroke="#1b70a1" stroke-width="0.7" />
<line x1="225.2" y1="452.2" x2="228" y2="452.2" stroke="#1b70a1" stroke-width="0.7" />
<line x1="225.2" y1="459.4" x2="228" y2="459.4" stroke="#1b70a1" stroke-width="0.7" />
<line x1="250.65" y1="479.2" x2="250.65" y2="486.3" stroke="#1b70a1" stroke-width="0.7" />
<line x1="249.25" y1="479.2" x2="252.05" y2="479.2" stroke="#1b70a1" stroke-width="0.7" />
<line x1="249.25" y1="486.3" x2="252.05" y2="486.3" stroke="#1b70a1" stroke-width="0.7" />
<line x1="298.75" y1="483.2" x2="298.75" y2="491.4" stroke="#1b70a1" stroke-width="0.7" />
<line x1="297.35" y1="483.2" x2="300.15" y2="483.2" stroke="#1b70a1" stroke-width="0.7" />
<line x1="297.35" y1="491.4" x2="300.15" y2="491.4" stroke="#1b70a1" stroke-width="0.7" />
<circle cx="226.6" cy="455.9" r="2.0" fill="#1b70a1"/>
<circle cx="250.65" cy="482.7" r="2.0" fill="#1b70a1"/>
<circle cx="274.7" cy="487.9" r="2.0" fill="#1b70a1"/>
<circle cx="298.75" cy="487.4" r="2.0" fill="#1b70a1"/>
<circle cx="322.8" cy="488.6" r="2.0" fill="#1b70a1"/>
<polyline points="382.57,466.4 390.85,473.4 401.2,455.9 484,460.3" fill="none" stroke="#8ab2ea" stroke-width="0.75"/>
<line x1="382.57" y1="464.5" x2="382.57" y2="468.5" stroke="#8ab2ea" stroke-width="0.7" />
<line x1="381.17" y1="464.5" x2="383.97" y2="464.5" stroke="#8ab2ea" stroke-width="0.7" />
<line x1="381.17" y1="468.5" x2="383.97" y2="468.5" stroke="#8ab2ea" stroke-width="0.7" />
<line x1="390.85" y1="471" x2="390.85" y2="476.9" stroke="#8ab2ea" stroke-width="0.7" />
<line x1="389.45" y1="471" x2="392.25" y2="471" stroke="#8ab2ea" stroke-width="0.7" />
<line x1="389.45" y1="476.9" x2="392.25" y2="476.9" stroke="#8ab2ea" stroke-width="0.7" />
<line x1="401.2" y1="452.1" x2="401.2" y2="458.7" stroke="#8ab2ea" stroke-width="0.7" />
<line x1="399.8" y1="452.1" x2="402.6" y2="452.1" stroke="#8ab2ea" stroke-width="0.7" />
<line x1="399.8" y1="458.7" x2="402.6" y2="458.7" stroke="#8ab2ea" stroke-width="0.7" />
<line x1="484" y1="454.5" x2="484" y2="465.2" stroke="#8ab2ea" stroke-width="0.7" />
<line x1="482.6" y1="454.5" x2="485.4" y2="454.5" stroke="#8ab2ea" stroke-width="0.7" />
<line x1="482.6" y1="465.2" x2="485.4" y2="465.2" stroke="#8ab2ea" stroke-width="0.7" />
<circle cx="382.57" cy="466.4" r="2.0" fill="#8ab2ea"/>
<circle cx="390.85" cy="473.4" r="2.0" fill="#8ab2ea"/>
<circle cx="401.2" cy="455.9" r="2.0" fill="#8ab2ea"/>
<circle cx="484" cy="460.3" r="2.0" fill="#8ab2ea"/>
<polyline points="542.72,482.6 550.97,465.7 563.34,455.2 588.08,465 637.56,452.6" fill="none" stroke="#8a8a8a" stroke-width="0.75"/>
<line x1="542.72" y1="480.7" x2="542.72" y2="484.7" stroke="#8a8a8a" stroke-width="0.7" />
<line x1="541.32" y1="480.7" x2="544.12" y2="480.7" stroke="#8a8a8a" stroke-width="0.7" />
<line x1="541.32" y1="484.7" x2="544.12" y2="484.7" stroke="#8a8a8a" stroke-width="0.7" />
<line x1="550.97" y1="457" x2="550.97" y2="474.2" stroke="#8a8a8a" stroke-width="0.7" />
<line x1="549.57" y1="457" x2="552.37" y2="457" stroke="#8a8a8a" stroke-width="0.7" />
<line x1="549.57" y1="474.2" x2="552.37" y2="474.2" stroke="#8a8a8a" stroke-width="0.7" />
<line x1="563.34" y1="451.8" x2="563.34" y2="458.9" stroke="#8a8a8a" stroke-width="0.7" />
<line x1="561.94" y1="451.8" x2="564.74" y2="451.8" stroke="#8a8a8a" stroke-width="0.7" />
<line x1="561.94" y1="458.9" x2="564.74" y2="458.9" stroke="#8a8a8a" stroke-width="0.7" />
<line x1="588.08" y1="461.5" x2="588.08" y2="468.4" stroke="#8a8a8a" stroke-width="0.7" />
<line x1="586.68" y1="461.5" x2="589.48" y2="461.5" stroke="#8a8a8a" stroke-width="0.7" />
<line x1="586.68" y1="468.4" x2="589.48" y2="468.4" stroke="#8a8a8a" stroke-width="0.7" />
<line x1="637.56" y1="449.2" x2="637.56" y2="456.6" stroke="#8a8a8a" stroke-width="0.7" />
<line x1="636.16" y1="449.2" x2="638.96" y2="449.2" stroke="#8a8a8a" stroke-width="0.7" />
<line x1="636.16" y1="456.6" x2="638.96" y2="456.6" stroke="#8a8a8a" stroke-width="0.7" />
<circle cx="542.72" cy="482.6" r="2.0" fill="#8a8a8a"/>
<circle cx="550.97" cy="465.7" r="2.0" fill="#8a8a8a"/>
<circle cx="563.34" cy="455.2" r="2.0" fill="#8a8a8a"/>
<circle cx="588.08" cy="465" r="2.0" fill="#8a8a8a"/>
<circle cx="637.56" cy="452.6" r="2.0" fill="#8a8a8a"/>
<text x="115.3" y="528.6" font-size="9.1" text-anchor="middle" fill="#231f20"><tspan font-style="italic">C</tspan><tspan font-size="5.5" dy="3.0">MBAA</tspan><tspan dy="-3.0">&#160;(%)</tspan></text>
<text x="275.2" y="528.6" font-size="9.1" text-anchor="middle" fill="#231f20"><tspan font-style="italic">C</tspan><tspan font-size="5.5" dy="3.0">LiCl</tspan><tspan dy="-3.0">&#160;(mol/L)</tspan></text>
<text x="433.25" y="528.6" font-size="9.1" text-anchor="middle" fill="#231f20"><tspan font-style="italic">φ</tspan><tspan font-size="5.5" dy="-3.4">0</tspan><tspan font-size="5.5" dx="-3.0" dy="6.4">Lap</tspan><tspan dy="-3.0">&#160;(%)</tspan></text>
<text x="590.14" y="528.6" font-size="9.1" text-anchor="middle" font-weight="normal" fill="#231f20" >Polymerization time (min)</text>
<line x1="89.3" y1="417.95" x2="93.2" y2="416.9" stroke="#fff" stroke-width="2"/>
<text transform="translate(10.4,440.3) rotate(-90)" font-size="9.1" text-anchor="middle" fill="#231f20">Young’s Modulus (MPa)</text>
<text x="1.6" y="378" font-size="17" text-anchor="start" font-weight="bold" fill="#000" >g</text>
<line x1="43.1" y1="557.3" x2="43.1" y2="673.8" stroke="#231f20" stroke-width="1.0" />
<line x1="41.1" y1="673.3" x2="43.1" y2="673.3" stroke="#231f20" stroke-width="0.8" />
<line x1="41.1" y1="644.42" x2="43.1" y2="644.42" stroke="#231f20" stroke-width="0.8" />
<line x1="41.1" y1="615.54" x2="43.1" y2="615.54" stroke="#231f20" stroke-width="0.8" />
<line x1="41.1" y1="586.66" x2="43.1" y2="586.66" stroke="#231f20" stroke-width="0.8" />
<line x1="41.1" y1="557.78" x2="43.1" y2="557.78" stroke="#231f20" stroke-width="0.8" />
<line x1="41.6" y1="658.86" x2="43.1" y2="658.86" stroke="#231f20" stroke-width="0.7" />
<line x1="41.6" y1="629.98" x2="43.1" y2="629.98" stroke="#231f20" stroke-width="0.7" />
<line x1="41.6" y1="601.1" x2="43.1" y2="601.1" stroke="#231f20" stroke-width="0.7" />
<line x1="41.6" y1="572.22" x2="43.1" y2="572.22" stroke="#231f20" stroke-width="0.7" />
<text x="36.2" y="676.7" font-size="9.0" text-anchor="end" font-weight="normal" fill="#231f20" >0.00</text>
<text x="36.2" y="647.82" font-size="9.0" text-anchor="end" font-weight="normal" fill="#231f20" >0.05</text>
<text x="36.2" y="618.94" font-size="9.0" text-anchor="end" font-weight="normal" fill="#231f20" >0.10</text>
<text x="36.2" y="590.06" font-size="9.0" text-anchor="end" font-weight="normal" fill="#231f20" >0.15</text>
<text x="36.2" y="561.18" font-size="9.0" text-anchor="end" font-weight="normal" fill="#231f20" >0.20</text>
<line x1="43.1" y1="673.4" x2="187.4" y2="673.4" stroke="#231f20" stroke-width="1.0" />
<line x1="63.8" y1="673.4" x2="63.8" y2="675.6" stroke="#231f20" stroke-width="0.8" />
<line x1="84.4" y1="673.4" x2="84.4" y2="674.6" stroke="#231f20" stroke-width="0.8" />
<line x1="105" y1="673.4" x2="105" y2="675.6" stroke="#231f20" stroke-width="0.8" />
<line x1="125.6" y1="673.4" x2="125.6" y2="674.6" stroke="#231f20" stroke-width="0.8" />
<line x1="146.2" y1="673.4" x2="146.2" y2="675.6" stroke="#231f20" stroke-width="0.8" />
<line x1="166.8" y1="673.4" x2="166.8" y2="674.6" stroke="#231f20" stroke-width="0.8" />
<line x1="187.4" y1="673.4" x2="187.4" y2="675.6" stroke="#231f20" stroke-width="0.8" />
<line x1="43.1" y1="673.4" x2="43.1" y2="675" stroke="#231f20" stroke-width="0.8" />
<text x="63.8" y="687.2" font-size="8.9" text-anchor="middle" font-weight="normal" fill="#231f20" >0</text>
<text x="105" y="687.2" font-size="8.9" text-anchor="middle" font-weight="normal" fill="#231f20" >2</text>
<text x="146.2" y="687.2" font-size="8.9" text-anchor="middle" font-weight="normal" fill="#231f20" >4</text>
<text x="187.4" y="687.2" font-size="8.9" text-anchor="middle" font-weight="normal" fill="#231f20" >6</text>
<line x1="204.23" y1="673.4" x2="348.68" y2="673.4" stroke="#231f20" stroke-width="1.0" />
<line x1="228.3" y1="673.4" x2="228.3" y2="675.6" stroke="#231f20" stroke-width="0.8" />
<line x1="252.38" y1="673.4" x2="252.38" y2="674.6" stroke="#231f20" stroke-width="0.8" />
<line x1="276.45" y1="673.4" x2="276.45" y2="675.6" stroke="#231f20" stroke-width="0.8" />
<line x1="300.52" y1="673.4" x2="300.52" y2="674.6" stroke="#231f20" stroke-width="0.8" />
<line x1="324.6" y1="673.4" x2="324.6" y2="675.6" stroke="#231f20" stroke-width="0.8" />
<line x1="348.68" y1="673.4" x2="348.68" y2="674.6" stroke="#231f20" stroke-width="0.8" />
<line x1="204.23" y1="673.4" x2="204.23" y2="675" stroke="#231f20" stroke-width="0.8" />
<text x="228.3" y="687.2" font-size="8.9" text-anchor="middle" font-weight="normal" fill="#231f20" >0</text>
<text x="276.45" y="687.2" font-size="8.9" text-anchor="middle" font-weight="normal" fill="#231f20" >1</text>
<text x="324.6" y="687.2" font-size="8.9" text-anchor="middle" font-weight="normal" fill="#231f20" >2</text>
<line x1="362.15" y1="673.4" x2="506" y2="673.4" stroke="#231f20" stroke-width="1.0" />
<line x1="382.7" y1="673.4" x2="382.7" y2="675.6" stroke="#231f20" stroke-width="0.8" />
<line x1="403.25" y1="673.4" x2="403.25" y2="674.6" stroke="#231f20" stroke-width="0.8" />
<line x1="423.8" y1="673.4" x2="423.8" y2="675.6" stroke="#231f20" stroke-width="0.8" />
<line x1="444.35" y1="673.4" x2="444.35" y2="674.6" stroke="#231f20" stroke-width="0.8" />
<line x1="464.9" y1="673.4" x2="464.9" y2="675.6" stroke="#231f20" stroke-width="0.8" />
<line x1="485.45" y1="673.4" x2="485.45" y2="674.6" stroke="#231f20" stroke-width="0.8" />
<line x1="506" y1="673.4" x2="506" y2="675.6" stroke="#231f20" stroke-width="0.8" />
<line x1="362.15" y1="673.4" x2="362.15" y2="675" stroke="#231f20" stroke-width="0.8" />
<text x="382.7" y="687.2" font-size="8.9" text-anchor="middle" font-weight="normal" fill="#231f20" >0</text>
<text x="423.8" y="687.2" font-size="8.9" text-anchor="middle" font-weight="normal" fill="#231f20" >2</text>
<text x="464.9" y="687.2" font-size="8.9" text-anchor="middle" font-weight="normal" fill="#231f20" >4</text>
<text x="506" y="687.2" font-size="8.9" text-anchor="middle" font-weight="normal" fill="#231f20" >6</text>
<line x1="519.9" y1="673.4" x2="664.1" y2="673.4" stroke="#231f20" stroke-width="1.0" />
<line x1="540.5" y1="673.4" x2="540.5" y2="675.6" stroke="#231f20" stroke-width="0.8" />
<line x1="561.1" y1="673.4" x2="561.1" y2="674.6" stroke="#231f20" stroke-width="0.8" />
<line x1="581.7" y1="673.4" x2="581.7" y2="675.6" stroke="#231f20" stroke-width="0.8" />
<line x1="602.3" y1="673.4" x2="602.3" y2="674.6" stroke="#231f20" stroke-width="0.8" />
<line x1="622.9" y1="673.4" x2="622.9" y2="675.6" stroke="#231f20" stroke-width="0.8" />
<line x1="643.5" y1="673.4" x2="643.5" y2="674.6" stroke="#231f20" stroke-width="0.8" />
<line x1="664.1" y1="673.4" x2="664.1" y2="675.6" stroke="#231f20" stroke-width="0.8" />
<line x1="519.9" y1="673.4" x2="519.9" y2="675" stroke="#231f20" stroke-width="0.8" />
<text x="540.5" y="687.2" font-size="8.9" text-anchor="middle" font-weight="normal" fill="#231f20" >0</text>
<text x="581.7" y="687.2" font-size="8.9" text-anchor="middle" font-weight="normal" fill="#231f20" >50</text>
<text x="622.9" y="687.2" font-size="8.9" text-anchor="middle" font-weight="normal" fill="#231f20" >100</text>
<text x="664.1" y="687.2" font-size="8.9" text-anchor="middle" font-weight="normal" fill="#231f20" >150</text>
<polyline points="63.8,628.7 65.86,602.6 74.1,604.1 84.4,570.5 166.8,606.8" fill="none" stroke="#13346d" stroke-width="0.75"/>
<line x1="63.8" y1="623.4" x2="63.8" y2="634.2" stroke="#13346d" stroke-width="0.7" />
<line x1="62.4" y1="623.4" x2="65.2" y2="623.4" stroke="#13346d" stroke-width="0.7" />
<line x1="62.4" y1="634.2" x2="65.2" y2="634.2" stroke="#13346d" stroke-width="0.7" />
<line x1="65.86" y1="593.6" x2="65.86" y2="611.2" stroke="#13346d" stroke-width="0.7" />
<line x1="64.46" y1="593.6" x2="67.26" y2="593.6" stroke="#13346d" stroke-width="0.7" />
<line x1="64.46" y1="611.2" x2="67.26" y2="611.2" stroke="#13346d" stroke-width="0.7" />
<line x1="74.1" y1="595.7" x2="74.1" y2="612.6" stroke="#13346d" stroke-width="0.7" />
<line x1="72.7" y1="595.7" x2="75.5" y2="595.7" stroke="#13346d" stroke-width="0.7" />
<line x1="72.7" y1="612.6" x2="75.5" y2="612.6" stroke="#13346d" stroke-width="0.7" />
<line x1="166.8" y1="594.2" x2="166.8" y2="618.5" stroke="#13346d" stroke-width="0.7" />
<line x1="165.4" y1="594.2" x2="168.2" y2="594.2" stroke="#13346d" stroke-width="0.7" />
<line x1="165.4" y1="618.5" x2="168.2" y2="618.5" stroke="#13346d" stroke-width="0.7" />
<circle cx="63.8" cy="628.7" r="2.0" fill="#13346d"/>
<circle cx="65.86" cy="602.6" r="2.0" fill="#13346d"/>
<circle cx="74.1" cy="604.1" r="2.0" fill="#13346d"/>
<circle cx="84.4" cy="570.5" r="2.0" fill="#13346d"/>
<circle cx="166.8" cy="606.8" r="2.0" fill="#13346d"/>
<polyline points="228.3,602.6 252.38,620.8 276.45,635.3 300.52,650 324.6,649.3" fill="none" stroke="#1b70a1" stroke-width="0.75"/>
<line x1="228.3" y1="593.7" x2="228.3" y2="611.4" stroke="#1b70a1" stroke-width="0.7" />
<line x1="226.9" y1="593.7" x2="229.7" y2="593.7" stroke="#1b70a1" stroke-width="0.7" />
<line x1="226.9" y1="611.4" x2="229.7" y2="611.4" stroke="#1b70a1" stroke-width="0.7" />
<line x1="252.38" y1="615.4" x2="252.38" y2="626.4" stroke="#1b70a1" stroke-width="0.7" />
<line x1="250.97" y1="615.4" x2="253.78" y2="615.4" stroke="#1b70a1" stroke-width="0.7" />
<line x1="250.97" y1="626.4" x2="253.78" y2="626.4" stroke="#1b70a1" stroke-width="0.7" />
<line x1="300.52" y1="644.6" x2="300.52" y2="655.1" stroke="#1b70a1" stroke-width="0.7" />
<line x1="299.12" y1="644.6" x2="301.92" y2="644.6" stroke="#1b70a1" stroke-width="0.7" />
<line x1="299.12" y1="655.1" x2="301.92" y2="655.1" stroke="#1b70a1" stroke-width="0.7" />
<line x1="324.6" y1="644.1" x2="324.6" y2="654.4" stroke="#1b70a1" stroke-width="0.7" />
<line x1="323.2" y1="644.1" x2="326" y2="644.1" stroke="#1b70a1" stroke-width="0.7" />
<line x1="323.2" y1="654.4" x2="326" y2="654.4" stroke="#1b70a1" stroke-width="0.7" />
<circle cx="228.3" cy="602.6" r="2.0" fill="#1b70a1"/>
<circle cx="252.38" cy="620.8" r="2.0" fill="#1b70a1"/>
<circle cx="276.45" cy="635.3" r="2.0" fill="#1b70a1"/>
<circle cx="300.52" cy="650" r="2.0" fill="#1b70a1"/>
<circle cx="324.6" cy="649.3" r="2.0" fill="#1b70a1"/>
<polyline points="384.75,602.1 392.97,614.2 403.25,602.1 485.45,598.6" fill="none" stroke="#8ab2ea" stroke-width="0.75"/>
<line x1="384.75" y1="599.8" x2="384.75" y2="604.2" stroke="#8ab2ea" stroke-width="0.7" />
<line x1="383.36" y1="599.8" x2="386.15" y2="599.8" stroke="#8ab2ea" stroke-width="0.7" />
<line x1="383.36" y1="604.2" x2="386.15" y2="604.2" stroke="#8ab2ea" stroke-width="0.7" />
<line x1="392.97" y1="611.9" x2="392.97" y2="616.6" stroke="#8ab2ea" stroke-width="0.7" />
<line x1="391.57" y1="611.9" x2="394.37" y2="611.9" stroke="#8ab2ea" stroke-width="0.7" />
<line x1="391.57" y1="616.6" x2="394.37" y2="616.6" stroke="#8ab2ea" stroke-width="0.7" />
<line x1="403.25" y1="593.2" x2="403.25" y2="611.2" stroke="#8ab2ea" stroke-width="0.7" />
<line x1="401.85" y1="593.2" x2="404.65" y2="593.2" stroke="#8ab2ea" stroke-width="0.7" />
<line x1="401.85" y1="611.2" x2="404.65" y2="611.2" stroke="#8ab2ea" stroke-width="0.7" />
<line x1="485.45" y1="589.2" x2="485.45" y2="607.9" stroke="#8ab2ea" stroke-width="0.7" />
<line x1="484.05" y1="589.2" x2="486.85" y2="589.2" stroke="#8ab2ea" stroke-width="0.7" />
<line x1="484.05" y1="607.9" x2="486.85" y2="607.9" stroke="#8ab2ea" stroke-width="0.7" />
<circle cx="384.75" cy="602.1" r="2.0" fill="#8ab2ea"/>
<circle cx="392.97" cy="614.2" r="2.0" fill="#8ab2ea"/>
<circle cx="403.25" cy="602.1" r="2.0" fill="#8ab2ea"/>
<circle cx="485.45" cy="598.6" r="2.0" fill="#8ab2ea"/>
<polyline points="544.62,606.5 552.86,602.5 565.22,602.5 589.94,599.9 639.38,594.1" fill="none" stroke="#8a8a8a" stroke-width="0.75"/>
<line x1="544.62" y1="604.5" x2="544.62" y2="608.5" stroke="#8a8a8a" stroke-width="0.7" />
<line x1="543.22" y1="604.5" x2="546.02" y2="604.5" stroke="#8a8a8a" stroke-width="0.7" />
<line x1="543.22" y1="608.5" x2="546.02" y2="608.5" stroke="#8a8a8a" stroke-width="0.7" />
<line x1="552.86" y1="599.4" x2="552.86" y2="605.7" stroke="#8a8a8a" stroke-width="0.7" />
<line x1="551.46" y1="599.4" x2="554.26" y2="599.4" stroke="#8a8a8a" stroke-width="0.7" />
<line x1="551.46" y1="605.7" x2="554.26" y2="605.7" stroke="#8a8a8a" stroke-width="0.7" />
<line x1="565.22" y1="593.4" x2="565.22" y2="611.7" stroke="#8a8a8a" stroke-width="0.7" />
<line x1="563.82" y1="593.4" x2="566.62" y2="593.4" stroke="#8a8a8a" stroke-width="0.7" />
<line x1="563.82" y1="611.7" x2="566.62" y2="611.7" stroke="#8a8a8a" stroke-width="0.7" />
<line x1="589.94" y1="594.1" x2="589.94" y2="605.7" stroke="#8a8a8a" stroke-width="0.7" />
<line x1="588.54" y1="594.1" x2="591.34" y2="594.1" stroke="#8a8a8a" stroke-width="0.7" />
<line x1="588.54" y1="605.7" x2="591.34" y2="605.7" stroke="#8a8a8a" stroke-width="0.7" />
<line x1="639.38" y1="591.5" x2="639.38" y2="596.8" stroke="#8a8a8a" stroke-width="0.7" />
<line x1="637.98" y1="591.5" x2="640.78" y2="591.5" stroke="#8a8a8a" stroke-width="0.7" />
<line x1="637.98" y1="596.8" x2="640.78" y2="596.8" stroke="#8a8a8a" stroke-width="0.7" />
<circle cx="544.62" cy="606.5" r="2.0" fill="#8a8a8a"/>
<circle cx="552.86" cy="602.5" r="2.0" fill="#8a8a8a"/>
<circle cx="565.22" cy="602.5" r="2.0" fill="#8a8a8a"/>
<circle cx="589.94" cy="599.9" r="2.0" fill="#8a8a8a"/>
<circle cx="639.38" cy="594.1" r="2.0" fill="#8a8a8a"/>
<text x="115.3" y="703" font-size="9.1" text-anchor="middle" fill="#231f20"><tspan font-style="italic">C</tspan><tspan font-size="5.5" dy="3.0">MBAA</tspan><tspan dy="-3.0">&#160;(%)</tspan></text>
<text x="276.95" y="703" font-size="9.1" text-anchor="middle" fill="#231f20"><tspan font-style="italic">C</tspan><tspan font-size="5.5" dy="3.0">LiCl</tspan><tspan dy="-3.0">&#160;(mol/L)</tspan></text>
<text x="435.07" y="703" font-size="9.1" text-anchor="middle" fill="#231f20"><tspan font-style="italic">φ</tspan><tspan font-size="5.5" dy="-3.4">0</tspan><tspan font-size="5.5" dx="-3.0" dy="6.4">Lap</tspan><tspan dy="-3.0">&#160;(%)</tspan></text>
<text x="592" y="703" font-size="9.1" text-anchor="middle" font-weight="normal" fill="#231f20" >Polymerization time (min)</text>
<text transform="translate(7.2,618.9) rotate(-90)" font-size="9.1" text-anchor="middle" fill="#231f20">Fracture strength (MPa)</text>
<text x="1.6" y="549" font-size="17" text-anchor="start" font-weight="bold" fill="#000" >h</text>
<line x1="43.1" y1="736" x2="43.1" y2="852.9" stroke="#231f20" stroke-width="1.0" />
<line x1="41.1" y1="852" x2="43.1" y2="852" stroke="#231f20" stroke-width="0.8" />
<line x1="41.1" y1="823" x2="43.1" y2="823" stroke="#231f20" stroke-width="0.8" />
<line x1="41.1" y1="794" x2="43.1" y2="794" stroke="#231f20" stroke-width="0.8" />
<line x1="41.1" y1="765" x2="43.1" y2="765" stroke="#231f20" stroke-width="0.8" />
<line x1="41.1" y1="736" x2="43.1" y2="736" stroke="#231f20" stroke-width="0.8" />
<line x1="41.6" y1="837.5" x2="43.1" y2="837.5" stroke="#231f20" stroke-width="0.7" />
<line x1="41.6" y1="808.5" x2="43.1" y2="808.5" stroke="#231f20" stroke-width="0.7" />
<line x1="41.6" y1="779.5" x2="43.1" y2="779.5" stroke="#231f20" stroke-width="0.7" />
<line x1="41.6" y1="750.5" x2="43.1" y2="750.5" stroke="#231f20" stroke-width="0.7" />
<text x="37" y="855.4" font-size="9.0" text-anchor="end" font-weight="normal" fill="#231f20" >0</text>
<text x="37" y="826.4" font-size="9.0" text-anchor="end" font-weight="normal" fill="#231f20" >4</text>
<text x="37" y="797.4" font-size="9.0" text-anchor="end" font-weight="normal" fill="#231f20" >8</text>
<text x="37" y="768.4" font-size="9.0" text-anchor="end" font-weight="normal" fill="#231f20" >12</text>
<text x="37" y="739.4" font-size="9.0" text-anchor="end" font-weight="normal" fill="#231f20" >16</text>
<line x1="43.1" y1="852.5" x2="187.4" y2="852.5" stroke="#231f20" stroke-width="1.0" />
<line x1="63.8" y1="852.5" x2="63.8" y2="854.7" stroke="#231f20" stroke-width="0.8" />
<line x1="84.4" y1="852.5" x2="84.4" y2="853.7" stroke="#231f20" stroke-width="0.8" />
<line x1="105" y1="852.5" x2="105" y2="854.7" stroke="#231f20" stroke-width="0.8" />
<line x1="125.6" y1="852.5" x2="125.6" y2="853.7" stroke="#231f20" stroke-width="0.8" />
<line x1="146.2" y1="852.5" x2="146.2" y2="854.7" stroke="#231f20" stroke-width="0.8" />
<line x1="166.8" y1="852.5" x2="166.8" y2="853.7" stroke="#231f20" stroke-width="0.8" />
<line x1="187.4" y1="852.5" x2="187.4" y2="854.7" stroke="#231f20" stroke-width="0.8" />
<line x1="43.1" y1="852.5" x2="43.1" y2="854.1" stroke="#231f20" stroke-width="0.8" />
<text x="63.8" y="867.2" font-size="8.9" text-anchor="middle" font-weight="normal" fill="#231f20" >0</text>
<text x="105" y="867.2" font-size="8.9" text-anchor="middle" font-weight="normal" fill="#231f20" >2</text>
<text x="146.2" y="867.2" font-size="8.9" text-anchor="middle" font-weight="normal" fill="#231f20" >4</text>
<text x="187.4" y="867.2" font-size="8.9" text-anchor="middle" font-weight="normal" fill="#231f20" >6</text>
<line x1="204" y1="852.5" x2="348.6" y2="852.5" stroke="#231f20" stroke-width="1.0" />
<line x1="228.1" y1="852.5" x2="228.1" y2="854.7" stroke="#231f20" stroke-width="0.8" />
<line x1="252.2" y1="852.5" x2="252.2" y2="853.7" stroke="#231f20" stroke-width="0.8" />
<line x1="276.3" y1="852.5" x2="276.3" y2="854.7" stroke="#231f20" stroke-width="0.8" />
<line x1="300.4" y1="852.5" x2="300.4" y2="853.7" stroke="#231f20" stroke-width="0.8" />
<line x1="324.5" y1="852.5" x2="324.5" y2="854.7" stroke="#231f20" stroke-width="0.8" />
<line x1="348.6" y1="852.5" x2="348.6" y2="853.7" stroke="#231f20" stroke-width="0.8" />
<line x1="204" y1="852.5" x2="204" y2="854.1" stroke="#231f20" stroke-width="0.8" />
<text x="228.1" y="867.2" font-size="8.9" text-anchor="middle" font-weight="normal" fill="#231f20" >0</text>
<text x="276.3" y="867.2" font-size="8.9" text-anchor="middle" font-weight="normal" fill="#231f20" >1</text>
<text x="324.5" y="867.2" font-size="8.9" text-anchor="middle" font-weight="normal" fill="#231f20" >2</text>
<line x1="361.5" y1="852.5" x2="506.4" y2="852.5" stroke="#231f20" stroke-width="1.0" />
<line x1="382.2" y1="852.5" x2="382.2" y2="854.7" stroke="#231f20" stroke-width="0.8" />
<line x1="402.9" y1="852.5" x2="402.9" y2="853.7" stroke="#231f20" stroke-width="0.8" />
<line x1="423.6" y1="852.5" x2="423.6" y2="854.7" stroke="#231f20" stroke-width="0.8" />
<line x1="444.3" y1="852.5" x2="444.3" y2="853.7" stroke="#231f20" stroke-width="0.8" />
<line x1="465" y1="852.5" x2="465" y2="854.7" stroke="#231f20" stroke-width="0.8" />
<line x1="485.7" y1="852.5" x2="485.7" y2="853.7" stroke="#231f20" stroke-width="0.8" />
<line x1="506.4" y1="852.5" x2="506.4" y2="854.7" stroke="#231f20" stroke-width="0.8" />
<line x1="361.5" y1="852.5" x2="361.5" y2="854.1" stroke="#231f20" stroke-width="0.8" />
<text x="382.2" y="867.2" font-size="8.9" text-anchor="middle" font-weight="normal" fill="#231f20" >0</text>
<text x="423.6" y="867.2" font-size="8.9" text-anchor="middle" font-weight="normal" fill="#231f20" >2</text>
<text x="465" y="867.2" font-size="8.9" text-anchor="middle" font-weight="normal" fill="#231f20" >4</text>
<text x="506.4" y="867.2" font-size="8.9" text-anchor="middle" font-weight="normal" fill="#231f20" >6</text>
<line x1="519.9" y1="852.5" x2="664.1" y2="852.5" stroke="#231f20" stroke-width="1.0" />
<line x1="540.5" y1="852.5" x2="540.5" y2="854.7" stroke="#231f20" stroke-width="0.8" />
<line x1="561.1" y1="852.5" x2="561.1" y2="853.7" stroke="#231f20" stroke-width="0.8" />
<line x1="581.7" y1="852.5" x2="581.7" y2="854.7" stroke="#231f20" stroke-width="0.8" />
<line x1="602.3" y1="852.5" x2="602.3" y2="853.7" stroke="#231f20" stroke-width="0.8" />
<line x1="622.9" y1="852.5" x2="622.9" y2="854.7" stroke="#231f20" stroke-width="0.8" />
<line x1="643.5" y1="852.5" x2="643.5" y2="853.7" stroke="#231f20" stroke-width="0.8" />
<line x1="664.1" y1="852.5" x2="664.1" y2="854.7" stroke="#231f20" stroke-width="0.8" />
<line x1="519.9" y1="852.5" x2="519.9" y2="854.1" stroke="#231f20" stroke-width="0.8" />
<text x="540.5" y="867.2" font-size="8.9" text-anchor="middle" font-weight="normal" fill="#231f20" >0</text>
<text x="581.7" y="867.2" font-size="8.9" text-anchor="middle" font-weight="normal" fill="#231f20" >50</text>
<text x="622.9" y="867.2" font-size="8.9" text-anchor="middle" font-weight="normal" fill="#231f20" >100</text>
<text x="664.1" y="867.2" font-size="8.9" text-anchor="middle" font-weight="normal" fill="#231f20" >150</text>
<polyline points="63.8,756.5 65.86,790.5 74.1,820.3 84.4,834.3 166.8,850.1" fill="none" stroke="#13346d" stroke-width="0.75"/>
<line x1="63.8" y1="746.7" x2="63.8" y2="766.5" stroke="#13346d" stroke-width="0.7" />
<line x1="62.4" y1="746.7" x2="65.2" y2="746.7" stroke="#13346d" stroke-width="0.7" />
<line x1="62.4" y1="766.5" x2="65.2" y2="766.5" stroke="#13346d" stroke-width="0.7" />
<line x1="65.86" y1="786.1" x2="65.86" y2="794.3" stroke="#13346d" stroke-width="0.7" />
<line x1="64.46" y1="786.1" x2="67.26" y2="786.1" stroke="#13346d" stroke-width="0.7" />
<line x1="64.46" y1="794.3" x2="67.26" y2="794.3" stroke="#13346d" stroke-width="0.7" />
<circle cx="63.8" cy="756.5" r="2.0" fill="#13346d"/>
<circle cx="65.86" cy="790.5" r="2.0" fill="#13346d"/>
<circle cx="74.1" cy="820.3" r="2.0" fill="#13346d"/>
<circle cx="84.4" cy="834.3" r="2.0" fill="#13346d"/>
<circle cx="166.8" cy="850.1" r="2.0" fill="#13346d"/>
<polyline points="228.1,790.1 252.2,783.5 276.3,777.7 300.4,808.8 324.5,809.5" fill="none" stroke="#0f5c5f" stroke-width="0.75"/>
<line x1="228.1" y1="786.6" x2="228.1" y2="794.3" stroke="#0f5c5f" stroke-width="0.7" />
<line x1="226.7" y1="786.6" x2="229.5" y2="786.6" stroke="#0f5c5f" stroke-width="0.7" />
<line x1="226.7" y1="794.3" x2="229.5" y2="794.3" stroke="#0f5c5f" stroke-width="0.7" />
<line x1="252.2" y1="774.4" x2="252.2" y2="792.4" stroke="#0f5c5f" stroke-width="0.7" />
<line x1="250.8" y1="774.4" x2="253.6" y2="774.4" stroke="#0f5c5f" stroke-width="0.7" />
<line x1="250.8" y1="792.4" x2="253.6" y2="792.4" stroke="#0f5c5f" stroke-width="0.7" />
<line x1="276.3" y1="765.5" x2="276.3" y2="790.1" stroke="#0f5c5f" stroke-width="0.7" />
<line x1="274.9" y1="765.5" x2="277.7" y2="765.5" stroke="#0f5c5f" stroke-width="0.7" />
<line x1="274.9" y1="790.1" x2="277.7" y2="790.1" stroke="#0f5c5f" stroke-width="0.7" />
<line x1="300.4" y1="802.2" x2="300.4" y2="815.3" stroke="#0f5c5f" stroke-width="0.7" />
<line x1="299" y1="802.2" x2="301.8" y2="802.2" stroke="#0f5c5f" stroke-width="0.7" />
<line x1="299" y1="815.3" x2="301.8" y2="815.3" stroke="#0f5c5f" stroke-width="0.7" />
<line x1="324.5" y1="807.6" x2="324.5" y2="811.6" stroke="#0f5c5f" stroke-width="0.7" />
<line x1="323.1" y1="807.6" x2="325.9" y2="807.6" stroke="#0f5c5f" stroke-width="0.7" />
<line x1="323.1" y1="811.6" x2="325.9" y2="811.6" stroke="#0f5c5f" stroke-width="0.7" />
<circle cx="228.1" cy="790.1" r="2.0" fill="#0f5c5f"/>
<circle cx="252.2" cy="783.5" r="2.0" fill="#0f5c5f"/>
<circle cx="276.3" cy="777.7" r="2.0" fill="#0f5c5f"/>
<circle cx="300.4" cy="808.8" r="2.0" fill="#0f5c5f"/>
<circle cx="324.5" cy="809.5" r="2.0" fill="#0f5c5f"/>
<polyline points="382.2,790.5 384.27,794.7 402.9,790.1 485.7,798.7" fill="none" stroke="#8fb4dd" stroke-width="0.75"/>
<line x1="382.2" y1="783" x2="382.2" y2="797" stroke="#8fb4dd" stroke-width="0.7" />
<line x1="380.8" y1="783" x2="383.6" y2="783" stroke="#8fb4dd" stroke-width="0.7" />
<line x1="380.8" y1="797" x2="383.6" y2="797" stroke="#8fb4dd" stroke-width="0.7" />
<line x1="384.27" y1="792.4" x2="384.27" y2="800.6" stroke="#8fb4dd" stroke-width="0.7" />
<line x1="382.87" y1="792.4" x2="385.67" y2="792.4" stroke="#8fb4dd" stroke-width="0.7" />
<line x1="382.87" y1="800.6" x2="385.67" y2="800.6" stroke="#8fb4dd" stroke-width="0.7" />
<line x1="402.9" y1="786.6" x2="402.9" y2="794.3" stroke="#8fb4dd" stroke-width="0.7" />
<line x1="401.5" y1="786.6" x2="404.3" y2="786.6" stroke="#8fb4dd" stroke-width="0.7" />
<line x1="401.5" y1="794.3" x2="404.3" y2="794.3" stroke="#8fb4dd" stroke-width="0.7" />
<circle cx="382.2" cy="790.5" r="2.0" fill="#8fb4dd"/>
<circle cx="384.27" cy="794.7" r="2.0" fill="#8fb4dd"/>
<circle cx="402.9" cy="790.1" r="2.0" fill="#8fb4dd"/>
<circle cx="485.7" cy="798.7" r="2.0" fill="#8fb4dd"/>
<polyline points="544.62,775.2 552.86,785.7 565.22,790.4 589.94,793.6 639.38,794.4" fill="none" stroke="#dcc6ca" stroke-width="0.75"/>
<line x1="544.62" y1="771.8" x2="544.62" y2="778.3" stroke="#dcc6ca" stroke-width="0.7" />
<line x1="543.22" y1="771.8" x2="546.02" y2="771.8" stroke="#dcc6ca" stroke-width="0.7" />
<line x1="543.22" y1="778.3" x2="546.02" y2="778.3" stroke="#dcc6ca" stroke-width="0.7" />
<line x1="552.86" y1="781" x2="552.86" y2="790.4" stroke="#dcc6ca" stroke-width="0.7" />
<line x1="551.46" y1="781" x2="554.26" y2="781" stroke="#dcc6ca" stroke-width="0.7" />
<line x1="551.46" y1="790.4" x2="554.26" y2="790.4" stroke="#dcc6ca" stroke-width="0.7" />
<line x1="565.22" y1="786.2" x2="565.22" y2="794.4" stroke="#dcc6ca" stroke-width="0.7" />
<line x1="563.82" y1="786.2" x2="566.62" y2="786.2" stroke="#dcc6ca" stroke-width="0.7" />
<line x1="563.82" y1="794.4" x2="566.62" y2="794.4" stroke="#dcc6ca" stroke-width="0.7" />
<line x1="589.94" y1="783.8" x2="589.94" y2="803.6" stroke="#dcc6ca" stroke-width="0.7" />
<line x1="588.54" y1="783.8" x2="591.34" y2="783.8" stroke="#dcc6ca" stroke-width="0.7" />
<line x1="588.54" y1="803.6" x2="591.34" y2="803.6" stroke="#dcc6ca" stroke-width="0.7" />
<circle cx="544.62" cy="775.2" r="2.0" fill="#dcc6ca"/>
<circle cx="552.86" cy="785.7" r="2.0" fill="#dcc6ca"/>
<circle cx="565.22" cy="790.4" r="2.0" fill="#dcc6ca"/>
<circle cx="589.94" cy="793.6" r="2.0" fill="#dcc6ca"/>
<circle cx="639.38" cy="794.4" r="2.0" fill="#dcc6ca"/>
<text x="115.3" y="882.2" font-size="9.1" text-anchor="middle" fill="#231f20"><tspan font-style="italic">C</tspan><tspan font-size="5.5" dy="3.0">MBAA</tspan><tspan dy="-3.0">&#160;(%)</tspan></text>
<text x="276.8" y="882.2" font-size="9.1" text-anchor="middle" fill="#231f20"><tspan font-style="italic">C</tspan><tspan font-size="5.5" dy="3.0">LiCl</tspan><tspan dy="-3.0">&#160;(mol/L)</tspan></text>
<text x="434.95" y="882.2" font-size="9.1" text-anchor="middle" fill="#231f20"><tspan font-style="italic">φ</tspan><tspan font-size="5.5" dy="-3.4">0</tspan><tspan font-size="5.5" dx="-3.0" dy="6.4">Lap</tspan><tspan dy="-3.0">&#160;(%)</tspan></text>
<text x="592" y="882.2" font-size="9.1" text-anchor="middle" font-weight="normal" fill="#231f20" >Polymerization time (min)</text>
<text transform="translate(15.2,794.8) rotate(-90)" font-size="9.1" text-anchor="middle" fill="#231f20">Tensile strain (mm/mm)</text>
<text x="1" y="729.9" font-size="17" text-anchor="start" font-weight="bold" fill="#000" >i</text>
<line x1="43.1" y1="907.3" x2="43.1" y2="1024.2" stroke="#231f20" stroke-width="1.0" />
<line x1="41.1" y1="1023.4" x2="43.1" y2="1023.4" stroke="#231f20" stroke-width="0.8" />
<line x1="41.1" y1="994.4" x2="43.1" y2="994.4" stroke="#231f20" stroke-width="0.8" />
<line x1="41.1" y1="965.4" x2="43.1" y2="965.4" stroke="#231f20" stroke-width="0.8" />
<line x1="41.1" y1="936.4" x2="43.1" y2="936.4" stroke="#231f20" stroke-width="0.8" />
<line x1="41.1" y1="907.4" x2="43.1" y2="907.4" stroke="#231f20" stroke-width="0.8" />
<line x1="41.6" y1="1008.9" x2="43.1" y2="1008.9" stroke="#231f20" stroke-width="0.7" />
<line x1="41.6" y1="979.9" x2="43.1" y2="979.9" stroke="#231f20" stroke-width="0.7" />
<line x1="41.6" y1="950.9" x2="43.1" y2="950.9" stroke="#231f20" stroke-width="0.7" />
<line x1="41.6" y1="921.9" x2="43.1" y2="921.9" stroke="#231f20" stroke-width="0.7" />
<text x="37" y="1026.8" font-size="9.0" text-anchor="end" font-weight="normal" fill="#231f20" >0.0</text>
<text x="37" y="997.8" font-size="9.0" text-anchor="end" font-weight="normal" fill="#231f20" >0.2</text>
<text x="37" y="968.8" font-size="9.0" text-anchor="end" font-weight="normal" fill="#231f20" >0.4</text>
<text x="37" y="939.8" font-size="9.0" text-anchor="end" font-weight="normal" fill="#231f20" >0.6</text>
<text x="37" y="910.8" font-size="9.0" text-anchor="end" font-weight="normal" fill="#231f20" >0.8</text>
<line x1="43.1" y1="1023.8" x2="187.4" y2="1023.8" stroke="#231f20" stroke-width="1.0" />
<line x1="63.8" y1="1023.8" x2="63.8" y2="1026" stroke="#231f20" stroke-width="0.8" />
<line x1="84.4" y1="1023.8" x2="84.4" y2="1025" stroke="#231f20" stroke-width="0.8" />
<line x1="105" y1="1023.8" x2="105" y2="1026" stroke="#231f20" stroke-width="0.8" />
<line x1="125.6" y1="1023.8" x2="125.6" y2="1025" stroke="#231f20" stroke-width="0.8" />
<line x1="146.2" y1="1023.8" x2="146.2" y2="1026" stroke="#231f20" stroke-width="0.8" />
<line x1="166.8" y1="1023.8" x2="166.8" y2="1025" stroke="#231f20" stroke-width="0.8" />
<line x1="187.4" y1="1023.8" x2="187.4" y2="1026" stroke="#231f20" stroke-width="0.8" />
<line x1="43.1" y1="1023.8" x2="43.1" y2="1025.4" stroke="#231f20" stroke-width="0.8" />
<text x="63.8" y="1040.4" font-size="8.9" text-anchor="middle" font-weight="normal" fill="#231f20" >0</text>
<text x="105" y="1040.4" font-size="8.9" text-anchor="middle" font-weight="normal" fill="#231f20" >2</text>
<text x="146.2" y="1040.4" font-size="8.9" text-anchor="middle" font-weight="normal" fill="#231f20" >4</text>
<text x="187.4" y="1040.4" font-size="8.9" text-anchor="middle" font-weight="normal" fill="#231f20" >6</text>
<line x1="204.4" y1="1023.8" x2="349" y2="1023.8" stroke="#231f20" stroke-width="1.0" />
<line x1="228.5" y1="1023.8" x2="228.5" y2="1026" stroke="#231f20" stroke-width="0.8" />
<line x1="252.6" y1="1023.8" x2="252.6" y2="1025" stroke="#231f20" stroke-width="0.8" />
<line x1="276.7" y1="1023.8" x2="276.7" y2="1026" stroke="#231f20" stroke-width="0.8" />
<line x1="300.8" y1="1023.8" x2="300.8" y2="1025" stroke="#231f20" stroke-width="0.8" />
<line x1="324.9" y1="1023.8" x2="324.9" y2="1026" stroke="#231f20" stroke-width="0.8" />
<line x1="349" y1="1023.8" x2="349" y2="1025" stroke="#231f20" stroke-width="0.8" />
<line x1="204.4" y1="1023.8" x2="204.4" y2="1025.4" stroke="#231f20" stroke-width="0.8" />
<text x="228.5" y="1040.4" font-size="8.9" text-anchor="middle" font-weight="normal" fill="#231f20" >0</text>
<text x="276.7" y="1040.4" font-size="8.9" text-anchor="middle" font-weight="normal" fill="#231f20" >1</text>
<text x="324.9" y="1040.4" font-size="8.9" text-anchor="middle" font-weight="normal" fill="#231f20" >2</text>
<line x1="361.5" y1="1023.8" x2="506.4" y2="1023.8" stroke="#231f20" stroke-width="1.0" />
<line x1="382.2" y1="1023.8" x2="382.2" y2="1026" stroke="#231f20" stroke-width="0.8" />
<line x1="402.9" y1="1023.8" x2="402.9" y2="1025" stroke="#231f20" stroke-width="0.8" />
<line x1="423.6" y1="1023.8" x2="423.6" y2="1026" stroke="#231f20" stroke-width="0.8" />
<line x1="444.3" y1="1023.8" x2="444.3" y2="1025" stroke="#231f20" stroke-width="0.8" />
<line x1="465" y1="1023.8" x2="465" y2="1026" stroke="#231f20" stroke-width="0.8" />
<line x1="485.7" y1="1023.8" x2="485.7" y2="1025" stroke="#231f20" stroke-width="0.8" />
<line x1="506.4" y1="1023.8" x2="506.4" y2="1026" stroke="#231f20" stroke-width="0.8" />
<line x1="361.5" y1="1023.8" x2="361.5" y2="1025.4" stroke="#231f20" stroke-width="0.8" />
<text x="382.2" y="1040.4" font-size="8.9" text-anchor="middle" font-weight="normal" fill="#231f20" >0</text>
<text x="423.6" y="1040.4" font-size="8.9" text-anchor="middle" font-weight="normal" fill="#231f20" >2</text>
<text x="465" y="1040.4" font-size="8.9" text-anchor="middle" font-weight="normal" fill="#231f20" >4</text>
<text x="506.4" y="1040.4" font-size="8.9" text-anchor="middle" font-weight="normal" fill="#231f20" >6</text>
<line x1="519.9" y1="1023.8" x2="664.1" y2="1023.8" stroke="#231f20" stroke-width="1.0" />
<line x1="540.5" y1="1023.8" x2="540.5" y2="1026" stroke="#231f20" stroke-width="0.8" />
<line x1="561.1" y1="1023.8" x2="561.1" y2="1025" stroke="#231f20" stroke-width="0.8" />
<line x1="581.7" y1="1023.8" x2="581.7" y2="1026" stroke="#231f20" stroke-width="0.8" />
<line x1="602.3" y1="1023.8" x2="602.3" y2="1025" stroke="#231f20" stroke-width="0.8" />
<line x1="622.9" y1="1023.8" x2="622.9" y2="1026" stroke="#231f20" stroke-width="0.8" />
<line x1="643.5" y1="1023.8" x2="643.5" y2="1025" stroke="#231f20" stroke-width="0.8" />
<line x1="664.1" y1="1023.8" x2="664.1" y2="1026" stroke="#231f20" stroke-width="0.8" />
<line x1="519.9" y1="1023.8" x2="519.9" y2="1025.4" stroke="#231f20" stroke-width="0.8" />
<text x="540.5" y="1040.4" font-size="8.9" text-anchor="middle" font-weight="normal" fill="#231f20" >0</text>
<text x="581.7" y="1040.4" font-size="8.9" text-anchor="middle" font-weight="normal" fill="#231f20" >50</text>
<text x="622.9" y="1040.4" font-size="8.9" text-anchor="middle" font-weight="normal" fill="#231f20" >100</text>
<text x="664.1" y="1040.4" font-size="8.9" text-anchor="middle" font-weight="normal" fill="#231f20" >150</text>
<polyline points="63.8,958.3 65.86,969.9 74.1,993.2 84.4,996.1 166.8,1021" fill="none" stroke="#13346d" stroke-width="0.75"/>
<line x1="63.8" y1="943.3" x2="63.8" y2="972.8" stroke="#13346d" stroke-width="0.7" />
<line x1="62.4" y1="943.3" x2="65.2" y2="943.3" stroke="#13346d" stroke-width="0.7" />
<line x1="62.4" y1="972.8" x2="65.2" y2="972.8" stroke="#13346d" stroke-width="0.7" />
<line x1="65.86" y1="957.6" x2="65.86" y2="981.5" stroke="#13346d" stroke-width="0.7" />
<line x1="64.46" y1="957.6" x2="67.26" y2="957.6" stroke="#13346d" stroke-width="0.7" />
<line x1="64.46" y1="981.5" x2="67.26" y2="981.5" stroke="#13346d" stroke-width="0.7" />
<line x1="74.1" y1="990.5" x2="74.1" y2="996" stroke="#13346d" stroke-width="0.7" />
<line x1="72.7" y1="990.5" x2="75.5" y2="990.5" stroke="#13346d" stroke-width="0.7" />
<line x1="72.7" y1="996" x2="75.5" y2="996" stroke="#13346d" stroke-width="0.7" />
<circle cx="63.8" cy="958.3" r="2.0" fill="#13346d"/>
<circle cx="65.86" cy="969.9" r="2.0" fill="#13346d"/>
<circle cx="74.1" cy="993.2" r="2.0" fill="#13346d"/>
<circle cx="84.4" cy="996.1" r="2.0" fill="#13346d"/>
<circle cx="166.8" cy="1021" r="2.0" fill="#13346d"/>
<polyline points="228.5,969.9 252.6,971.8 276.7,984.6 300.8,1008 324.9,1008" fill="none" stroke="#0f5c5f" stroke-width="0.75"/>
<line x1="228.5" y1="958.2" x2="228.5" y2="981.1" stroke="#0f5c5f" stroke-width="0.7" />
<line x1="227.1" y1="958.2" x2="229.9" y2="958.2" stroke="#0f5c5f" stroke-width="0.7" />
<line x1="227.1" y1="981.1" x2="229.9" y2="981.1" stroke="#0f5c5f" stroke-width="0.7" />
<line x1="252.6" y1="959.4" x2="252.6" y2="983.4" stroke="#0f5c5f" stroke-width="0.7" />
<line x1="251.2" y1="959.4" x2="254" y2="959.4" stroke="#0f5c5f" stroke-width="0.7" />
<line x1="251.2" y1="983.4" x2="254" y2="983.4" stroke="#0f5c5f" stroke-width="0.7" />
<line x1="276.7" y1="978.3" x2="276.7" y2="990" stroke="#0f5c5f" stroke-width="0.7" />
<line x1="275.3" y1="978.3" x2="278.1" y2="978.3" stroke="#0f5c5f" stroke-width="0.7" />
<line x1="275.3" y1="990" x2="278.1" y2="990" stroke="#0f5c5f" stroke-width="0.7" />
<line x1="300.8" y1="1003.3" x2="300.8" y2="1012.2" stroke="#0f5c5f" stroke-width="0.7" />
<line x1="299.4" y1="1003.3" x2="302.2" y2="1003.3" stroke="#0f5c5f" stroke-width="0.7" />
<line x1="299.4" y1="1012.2" x2="302.2" y2="1012.2" stroke="#0f5c5f" stroke-width="0.7" />
<line x1="324.9" y1="1004.5" x2="324.9" y2="1011" stroke="#0f5c5f" stroke-width="0.7" />
<line x1="323.5" y1="1004.5" x2="326.3" y2="1004.5" stroke="#0f5c5f" stroke-width="0.7" />
<line x1="323.5" y1="1011" x2="326.3" y2="1011" stroke="#0f5c5f" stroke-width="0.7" />
<circle cx="228.5" cy="969.9" r="2.0" fill="#0f5c5f"/>
<circle cx="252.6" cy="971.8" r="2.0" fill="#0f5c5f"/>
<circle cx="276.7" cy="984.6" r="2.0" fill="#0f5c5f"/>
<circle cx="300.8" cy="1008" r="2.0" fill="#0f5c5f"/>
<circle cx="324.9" cy="1008" r="2.0" fill="#0f5c5f"/>
<polyline points="382.2,963.6 384.27,977.6 402.9,970.1 485.7,969.7" fill="none" stroke="#8fb4dd" stroke-width="0.75"/>
<line x1="382.2" y1="960.5" x2="382.2" y2="965.2" stroke="#8fb4dd" stroke-width="0.7" />
<line x1="380.8" y1="960.5" x2="383.6" y2="960.5" stroke="#8fb4dd" stroke-width="0.7" />
<line x1="380.8" y1="965.2" x2="383.6" y2="965.2" stroke="#8fb4dd" stroke-width="0.7" />
<line x1="384.27" y1="975.3" x2="384.27" y2="980" stroke="#8fb4dd" stroke-width="0.7" />
<line x1="382.87" y1="975.3" x2="385.67" y2="975.3" stroke="#8fb4dd" stroke-width="0.7" />
<line x1="382.87" y1="980" x2="385.67" y2="980" stroke="#8fb4dd" stroke-width="0.7" />
<line x1="402.9" y1="958.2" x2="402.9" y2="981.8" stroke="#8fb4dd" stroke-width="0.7" />
<line x1="401.5" y1="958.2" x2="404.3" y2="958.2" stroke="#8fb4dd" stroke-width="0.7" />
<line x1="401.5" y1="981.8" x2="404.3" y2="981.8" stroke="#8fb4dd" stroke-width="0.7" />
<line x1="485.7" y1="959.4" x2="485.7" y2="979.5" stroke="#8fb4dd" stroke-width="0.7" />
<line x1="484.3" y1="959.4" x2="487.1" y2="959.4" stroke="#8fb4dd" stroke-width="0.7" />
<line x1="484.3" y1="979.5" x2="487.1" y2="979.5" stroke="#8fb4dd" stroke-width="0.7" />
<circle cx="382.2" cy="963.6" r="2.0" fill="#8fb4dd"/>
<circle cx="384.27" cy="977.6" r="2.0" fill="#8fb4dd"/>
<circle cx="402.9" cy="970.1" r="2.0" fill="#8fb4dd"/>
<circle cx="485.7" cy="969.7" r="2.0" fill="#8fb4dd"/>
<polyline points="544.62,964.1 552.86,962.8 565.22,970.1 589.94,964.9 639.38,957.8" fill="none" stroke="#dcc6ca" stroke-width="0.75"/>
<line x1="544.62" y1="961.5" x2="544.62" y2="966.7" stroke="#dcc6ca" stroke-width="0.7" />
<line x1="543.22" y1="961.5" x2="546.02" y2="961.5" stroke="#dcc6ca" stroke-width="0.7" />
<line x1="543.22" y1="966.7" x2="546.02" y2="966.7" stroke="#dcc6ca" stroke-width="0.7" />
<line x1="552.86" y1="953.1" x2="552.86" y2="972.8" stroke="#dcc6ca" stroke-width="0.7" />
<line x1="551.46" y1="953.1" x2="554.26" y2="953.1" stroke="#dcc6ca" stroke-width="0.7" />
<line x1="551.46" y1="972.8" x2="554.26" y2="972.8" stroke="#dcc6ca" stroke-width="0.7" />
<line x1="565.22" y1="958.3" x2="565.22" y2="982" stroke="#dcc6ca" stroke-width="0.7" />
<line x1="563.82" y1="958.3" x2="566.62" y2="958.3" stroke="#dcc6ca" stroke-width="0.7" />
<line x1="563.82" y1="982" x2="566.62" y2="982" stroke="#dcc6ca" stroke-width="0.7" />
<line x1="589.94" y1="953.6" x2="589.94" y2="975.4" stroke="#dcc6ca" stroke-width="0.7" />
<line x1="588.54" y1="953.6" x2="591.34" y2="953.6" stroke="#dcc6ca" stroke-width="0.7" />
<line x1="588.54" y1="975.4" x2="591.34" y2="975.4" stroke="#dcc6ca" stroke-width="0.7" />
<circle cx="544.62" cy="964.1" r="2.0" fill="#dcc6ca"/>
<circle cx="552.86" cy="962.8" r="2.0" fill="#dcc6ca"/>
<circle cx="565.22" cy="970.1" r="2.0" fill="#dcc6ca"/>
<circle cx="589.94" cy="964.9" r="2.0" fill="#dcc6ca"/>
<circle cx="639.38" cy="957.8" r="2.0" fill="#dcc6ca"/>
<text x="115.3" y="1055.9" font-size="9.1" text-anchor="middle" fill="#231f20"><tspan font-style="italic">C</tspan><tspan font-size="5.5" dy="3.0">MBAA</tspan><tspan dy="-3.0">&#160;(%)</tspan></text>
<text x="277.2" y="1055.9" font-size="9.1" text-anchor="middle" fill="#231f20"><tspan font-style="italic">C</tspan><tspan font-size="5.5" dy="3.0">LiCl</tspan><tspan dy="-3.0">&#160;(mol/L)</tspan></text>
<text x="434.95" y="1055.9" font-size="9.1" text-anchor="middle" fill="#231f20"><tspan font-style="italic">φ</tspan><tspan font-size="5.5" dy="-3.4">0</tspan><tspan font-size="5.5" dx="-3.0" dy="6.4">Lap</tspan><tspan dy="-3.0">&#160;(%)</tspan></text>
<text x="592" y="1055.9" font-size="9.1" text-anchor="middle" font-weight="normal" fill="#231f20" >Polymerization time (min)</text>
<text transform="translate(12.8,965.5) rotate(-90)" font-size="9.1" text-anchor="middle" fill="#231f20">Work of tension (MJ/m<tspan font-size="5.2" dy="-3">-3</tspan><tspan dy="3">)</tspan></text>
<text x="1" y="907" font-size="17" text-anchor="start" font-weight="bold" fill="#000" >j</text>
</svg></body></html>
